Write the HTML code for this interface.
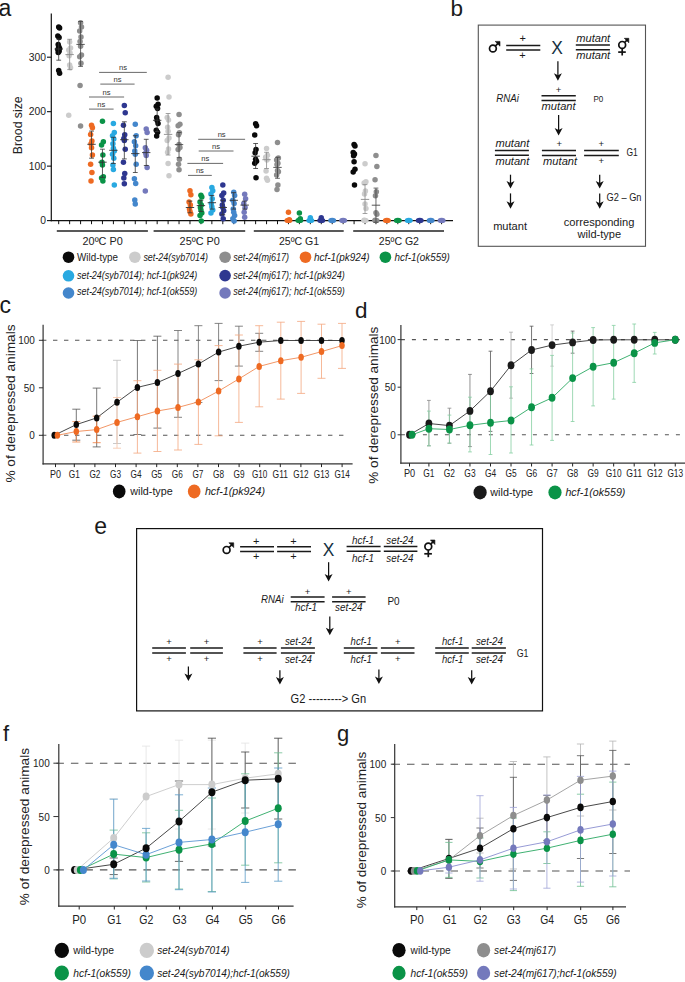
<!DOCTYPE html>
<html><head><meta charset="utf-8"><title>Figure</title>
<style>
html,body{margin:0;padding:0;background:#fff;}
body{width:685px;height:982px;overflow:hidden;}
svg{display:block;font-family:"Liberation Sans", sans-serif;}
</style></head><body>
<svg width="685" height="982" viewBox="0 0 685 982">
<rect width="685" height="982" fill="#fff"/>
<text x="-1.4" y="15.9" font-size="23" text-anchor="start" fill="#1a1a1a">a</text>
<line x1="51.3" y1="13.5" x2="51.3" y2="221.2" stroke="#111" stroke-width="1.2"/>
<line x1="50.7" y1="220.6" x2="453" y2="220.6" stroke="#111" stroke-width="1.2"/>
<line x1="47" y1="220.6" x2="51.3" y2="220.6" stroke="#111" stroke-width="1.1"/>
<text x="45.9" y="224.3" font-size="11" text-anchor="end" fill="#222" textLength="5.75" lengthAdjust="spacingAndGlyphs">0</text>
<line x1="47" y1="166.13" x2="51.3" y2="166.13" stroke="#111" stroke-width="1.1"/>
<text x="45.9" y="169.83" font-size="11" text-anchor="end" fill="#222" textLength="17.25" lengthAdjust="spacingAndGlyphs">100</text>
<line x1="47" y1="111.67" x2="51.3" y2="111.67" stroke="#111" stroke-width="1.1"/>
<text x="45.9" y="115.37" font-size="11" text-anchor="end" fill="#222" textLength="17.25" lengthAdjust="spacingAndGlyphs">200</text>
<line x1="47" y1="57.2" x2="51.3" y2="57.2" stroke="#111" stroke-width="1.1"/>
<text x="45.9" y="60.9" font-size="11" text-anchor="end" fill="#222" textLength="17.25" lengthAdjust="spacingAndGlyphs">300</text>
<text transform="translate(22.2 125.3) rotate(-90)" x="0" y="0" font-size="13.6" text-anchor="middle" fill="#222" textLength="57.8" lengthAdjust="spacingAndGlyphs">Brood size</text>
<line x1="58.7" y1="220.6" x2="58.7" y2="224.2" stroke="#111" stroke-width="1"/>
<line x1="69.64" y1="220.6" x2="69.64" y2="224.2" stroke="#111" stroke-width="1"/>
<line x1="80.58" y1="220.6" x2="80.58" y2="224.2" stroke="#111" stroke-width="1"/>
<line x1="91.52" y1="220.6" x2="91.52" y2="224.2" stroke="#111" stroke-width="1"/>
<line x1="102.46" y1="220.6" x2="102.46" y2="224.2" stroke="#111" stroke-width="1"/>
<line x1="113.4" y1="220.6" x2="113.4" y2="224.2" stroke="#111" stroke-width="1"/>
<line x1="124.34" y1="220.6" x2="124.34" y2="224.2" stroke="#111" stroke-width="1"/>
<line x1="135.28" y1="220.6" x2="135.28" y2="224.2" stroke="#111" stroke-width="1"/>
<line x1="146.22" y1="220.6" x2="146.22" y2="224.2" stroke="#111" stroke-width="1"/>
<line x1="157.16" y1="220.6" x2="157.16" y2="224.2" stroke="#111" stroke-width="1"/>
<line x1="168.1" y1="220.6" x2="168.1" y2="224.2" stroke="#111" stroke-width="1"/>
<line x1="179.04" y1="220.6" x2="179.04" y2="224.2" stroke="#111" stroke-width="1"/>
<line x1="189.98" y1="220.6" x2="189.98" y2="224.2" stroke="#111" stroke-width="1"/>
<line x1="200.92" y1="220.6" x2="200.92" y2="224.2" stroke="#111" stroke-width="1"/>
<line x1="211.86" y1="220.6" x2="211.86" y2="224.2" stroke="#111" stroke-width="1"/>
<line x1="222.8" y1="220.6" x2="222.8" y2="224.2" stroke="#111" stroke-width="1"/>
<line x1="233.74" y1="220.6" x2="233.74" y2="224.2" stroke="#111" stroke-width="1"/>
<line x1="244.68" y1="220.6" x2="244.68" y2="224.2" stroke="#111" stroke-width="1"/>
<line x1="255.62" y1="220.6" x2="255.62" y2="224.2" stroke="#111" stroke-width="1"/>
<line x1="266.56" y1="220.6" x2="266.56" y2="224.2" stroke="#111" stroke-width="1"/>
<line x1="277.5" y1="220.6" x2="277.5" y2="224.2" stroke="#111" stroke-width="1"/>
<line x1="288.44" y1="220.6" x2="288.44" y2="224.2" stroke="#111" stroke-width="1"/>
<line x1="299.38" y1="220.6" x2="299.38" y2="224.2" stroke="#111" stroke-width="1"/>
<line x1="310.32" y1="220.6" x2="310.32" y2="224.2" stroke="#111" stroke-width="1"/>
<line x1="321.26" y1="220.6" x2="321.26" y2="224.2" stroke="#111" stroke-width="1"/>
<line x1="332.2" y1="220.6" x2="332.2" y2="224.2" stroke="#111" stroke-width="1"/>
<line x1="343.14" y1="220.6" x2="343.14" y2="224.2" stroke="#111" stroke-width="1"/>
<line x1="354.08" y1="220.6" x2="354.08" y2="224.2" stroke="#111" stroke-width="1"/>
<line x1="365.02" y1="220.6" x2="365.02" y2="224.2" stroke="#111" stroke-width="1"/>
<line x1="375.96" y1="220.6" x2="375.96" y2="224.2" stroke="#111" stroke-width="1"/>
<line x1="386.9" y1="220.6" x2="386.9" y2="224.2" stroke="#111" stroke-width="1"/>
<line x1="397.84" y1="220.6" x2="397.84" y2="224.2" stroke="#111" stroke-width="1"/>
<line x1="408.78" y1="220.6" x2="408.78" y2="224.2" stroke="#111" stroke-width="1"/>
<line x1="419.72" y1="220.6" x2="419.72" y2="224.2" stroke="#111" stroke-width="1"/>
<line x1="430.66" y1="220.6" x2="430.66" y2="224.2" stroke="#111" stroke-width="1"/>
<line x1="441.6" y1="220.6" x2="441.6" y2="224.2" stroke="#111" stroke-width="1"/>
<line x1="56.8" y1="231" x2="147.9" y2="231" stroke="#222" stroke-width="1.3"/>
<text x="102.65" y="244.6" font-size="10.6" text-anchor="middle" fill="#222" textLength="40.2" lengthAdjust="spacingAndGlyphs">20ºC P0</text>
<line x1="153.6" y1="231" x2="245.2" y2="231" stroke="#222" stroke-width="1.3"/>
<text x="199.7" y="244.6" font-size="10.6" text-anchor="middle" fill="#222" textLength="40.2" lengthAdjust="spacingAndGlyphs">25ºC P0</text>
<line x1="253.8" y1="231" x2="343.7" y2="231" stroke="#222" stroke-width="1.3"/>
<text x="299.05" y="244.6" font-size="10.6" text-anchor="middle" fill="#222" textLength="40.2" lengthAdjust="spacingAndGlyphs">25ºC G1</text>
<line x1="353.2" y1="231" x2="444" y2="231" stroke="#222" stroke-width="1.3"/>
<text x="398.9" y="244.6" font-size="10.6" text-anchor="middle" fill="#222" textLength="40.2" lengthAdjust="spacingAndGlyphs">25ºC G2</text>
<circle cx="58.7" cy="27" r="2.75" fill="#0a0a0a"/>
<circle cx="59.6" cy="27.9" r="2.75" fill="#0a0a0a"/>
<circle cx="57.8" cy="36.1" r="2.75" fill="#0a0a0a"/>
<circle cx="59.1" cy="37.5" r="2.75" fill="#0a0a0a"/>
<circle cx="58.2" cy="44.6" r="2.75" fill="#0a0a0a"/>
<circle cx="58.7" cy="46.5" r="2.75" fill="#0a0a0a"/>
<circle cx="59.6" cy="48.5" r="2.75" fill="#0a0a0a"/>
<circle cx="57.8" cy="49.4" r="2.75" fill="#0a0a0a"/>
<circle cx="59.1" cy="51.2" r="2.75" fill="#0a0a0a"/>
<circle cx="58.2" cy="52.6" r="2.75" fill="#0a0a0a"/>
<circle cx="58.7" cy="70.5" r="2.75" fill="#0a0a0a"/>
<circle cx="59.6" cy="73.2" r="2.75" fill="#0a0a0a"/>
<line x1="58.7" y1="39" x2="58.7" y2="60.2" stroke="#333" stroke-width="0.8"/>
<line x1="56.3" y1="39" x2="61.1" y2="39" stroke="#333" stroke-width="0.8"/>
<line x1="56.3" y1="60.2" x2="61.1" y2="60.2" stroke="#333" stroke-width="0.8"/>
<line x1="54.5" y1="49" x2="62.9" y2="49" stroke="#333" stroke-width="0.9"/>
<circle cx="69.64" cy="42" r="2.75" fill="#cccccc"/>
<circle cx="70.54" cy="48" r="2.75" fill="#cccccc"/>
<circle cx="68.74" cy="50" r="2.75" fill="#cccccc"/>
<circle cx="70.04" cy="53" r="2.75" fill="#cccccc"/>
<circle cx="69.14" cy="55.8" r="2.75" fill="#cccccc"/>
<circle cx="69.64" cy="65" r="2.75" fill="#cccccc"/>
<circle cx="70.54" cy="67.7" r="2.75" fill="#cccccc"/>
<circle cx="68.74" cy="115.2" r="2.75" fill="#cccccc"/>
<line x1="69.64" y1="39.3" x2="69.64" y2="69.6" stroke="#8a8a8a" stroke-width="0.8"/>
<line x1="67.24" y1="39.3" x2="72.04" y2="39.3" stroke="#8a8a8a" stroke-width="0.8"/>
<line x1="67.24" y1="69.6" x2="72.04" y2="69.6" stroke="#8a8a8a" stroke-width="0.8"/>
<line x1="65.44" y1="54.6" x2="73.84" y2="54.6" stroke="#8a8a8a" stroke-width="0.9"/>
<circle cx="80.58" cy="22.8" r="2.75" fill="#8e8e8e"/>
<circle cx="81.48" cy="27" r="2.75" fill="#8e8e8e"/>
<circle cx="79.68" cy="31" r="2.75" fill="#8e8e8e"/>
<circle cx="80.98" cy="37" r="2.75" fill="#8e8e8e"/>
<circle cx="80.08" cy="41.6" r="2.75" fill="#8e8e8e"/>
<circle cx="80.58" cy="46.2" r="2.75" fill="#8e8e8e"/>
<circle cx="81.48" cy="54.9" r="2.75" fill="#8e8e8e"/>
<circle cx="79.68" cy="56.7" r="2.75" fill="#8e8e8e"/>
<circle cx="80.98" cy="63.2" r="2.75" fill="#8e8e8e"/>
<circle cx="80.08" cy="85.6" r="2.75" fill="#8e8e8e"/>
<circle cx="80.58" cy="126" r="2.75" fill="#8e8e8e"/>
<line x1="80.58" y1="21.5" x2="80.58" y2="66.4" stroke="#444" stroke-width="0.8"/>
<line x1="78.18" y1="21.5" x2="82.98" y2="21.5" stroke="#444" stroke-width="0.8"/>
<line x1="78.18" y1="66.4" x2="82.98" y2="66.4" stroke="#444" stroke-width="0.8"/>
<line x1="76.38" y1="44.4" x2="84.78" y2="44.4" stroke="#444" stroke-width="0.9"/>
<circle cx="91.52" cy="125.2" r="2.75" fill="#ee6a22"/>
<circle cx="92.42" cy="127.8" r="2.75" fill="#ee6a22"/>
<circle cx="90.62" cy="134.4" r="2.75" fill="#ee6a22"/>
<circle cx="91.92" cy="141" r="2.75" fill="#ee6a22"/>
<circle cx="91.02" cy="143.7" r="2.75" fill="#ee6a22"/>
<circle cx="91.52" cy="147.7" r="2.75" fill="#ee6a22"/>
<circle cx="92.42" cy="154.9" r="2.75" fill="#ee6a22"/>
<circle cx="90.62" cy="164.2" r="2.75" fill="#ee6a22"/>
<circle cx="91.92" cy="172.5" r="2.75" fill="#ee6a22"/>
<circle cx="91.02" cy="181" r="2.75" fill="#ee6a22"/>
<line x1="91.52" y1="131.1" x2="91.52" y2="158.2" stroke="#333" stroke-width="0.8"/>
<line x1="89.12" y1="131.1" x2="93.92" y2="131.1" stroke="#333" stroke-width="0.8"/>
<line x1="89.12" y1="158.2" x2="93.92" y2="158.2" stroke="#333" stroke-width="0.8"/>
<line x1="87.32" y1="144.3" x2="95.72" y2="144.3" stroke="#333" stroke-width="0.9"/>
<circle cx="102.46" cy="121.2" r="2.75" fill="#0a9347"/>
<circle cx="103.36" cy="141.7" r="2.75" fill="#0a9347"/>
<circle cx="101.56" cy="145" r="2.75" fill="#0a9347"/>
<circle cx="102.86" cy="154.9" r="2.75" fill="#0a9347"/>
<circle cx="101.96" cy="162.2" r="2.75" fill="#0a9347"/>
<circle cx="102.46" cy="164.9" r="2.75" fill="#0a9347"/>
<circle cx="103.36" cy="176.8" r="2.75" fill="#0a9347"/>
<circle cx="101.56" cy="178.1" r="2.75" fill="#0a9347"/>
<circle cx="102.86" cy="181" r="2.75" fill="#0a9347"/>
<line x1="102.46" y1="149.2" x2="102.46" y2="177.4" stroke="#333" stroke-width="0.8"/>
<line x1="100.06" y1="149.2" x2="104.86" y2="149.2" stroke="#333" stroke-width="0.8"/>
<line x1="100.06" y1="177.4" x2="104.86" y2="177.4" stroke="#333" stroke-width="0.8"/>
<line x1="98.26" y1="162.2" x2="106.66" y2="162.2" stroke="#333" stroke-width="0.9"/>
<circle cx="113.4" cy="123.6" r="2.75" fill="#29a9e1"/>
<circle cx="114.3" cy="132.4" r="2.75" fill="#29a9e1"/>
<circle cx="112.5" cy="135.7" r="2.75" fill="#29a9e1"/>
<circle cx="113.8" cy="139" r="2.75" fill="#29a9e1"/>
<circle cx="112.9" cy="143.7" r="2.75" fill="#29a9e1"/>
<circle cx="113.4" cy="148.3" r="2.75" fill="#29a9e1"/>
<circle cx="114.3" cy="151" r="2.75" fill="#29a9e1"/>
<circle cx="112.5" cy="154.3" r="2.75" fill="#29a9e1"/>
<circle cx="113.8" cy="158.2" r="2.75" fill="#29a9e1"/>
<circle cx="112.9" cy="164.9" r="2.75" fill="#29a9e1"/>
<circle cx="113.4" cy="169.5" r="2.75" fill="#29a9e1"/>
<circle cx="114.3" cy="185" r="2.75" fill="#29a9e1"/>
<line x1="113.4" y1="137.3" x2="113.4" y2="163.5" stroke="#333" stroke-width="0.8"/>
<line x1="111" y1="137.3" x2="115.8" y2="137.3" stroke="#333" stroke-width="0.8"/>
<line x1="111" y1="163.5" x2="115.8" y2="163.5" stroke="#333" stroke-width="0.8"/>
<line x1="109.2" y1="150.3" x2="117.6" y2="150.3" stroke="#333" stroke-width="0.9"/>
<circle cx="124.34" cy="105.6" r="2.75" fill="#2e3790"/>
<circle cx="125.24" cy="112.8" r="2.75" fill="#2e3790"/>
<circle cx="123.44" cy="125.2" r="2.75" fill="#2e3790"/>
<circle cx="124.74" cy="134.7" r="2.75" fill="#2e3790"/>
<circle cx="123.84" cy="138.4" r="2.75" fill="#2e3790"/>
<circle cx="124.34" cy="140.4" r="2.75" fill="#2e3790"/>
<circle cx="125.24" cy="149.2" r="2.75" fill="#2e3790"/>
<circle cx="123.44" cy="162.2" r="2.75" fill="#2e3790"/>
<circle cx="124.74" cy="173.5" r="2.75" fill="#2e3790"/>
<circle cx="123.84" cy="178.1" r="2.75" fill="#2e3790"/>
<circle cx="124.34" cy="183.7" r="2.75" fill="#2e3790"/>
<line x1="124.34" y1="121.8" x2="124.34" y2="158.9" stroke="#333" stroke-width="0.8"/>
<line x1="121.94" y1="121.8" x2="126.74" y2="121.8" stroke="#333" stroke-width="0.8"/>
<line x1="121.94" y1="158.9" x2="126.74" y2="158.9" stroke="#333" stroke-width="0.8"/>
<line x1="120.14" y1="139.7" x2="128.54" y2="139.7" stroke="#333" stroke-width="0.9"/>
<circle cx="135.28" cy="124.2" r="2.75" fill="#4487cc"/>
<circle cx="136.18" cy="135.7" r="2.75" fill="#4487cc"/>
<circle cx="134.38" cy="141.7" r="2.75" fill="#4487cc"/>
<circle cx="135.68" cy="145.7" r="2.75" fill="#4487cc"/>
<circle cx="134.78" cy="151" r="2.75" fill="#4487cc"/>
<circle cx="135.28" cy="154.3" r="2.75" fill="#4487cc"/>
<circle cx="136.18" cy="164.2" r="2.75" fill="#4487cc"/>
<circle cx="134.38" cy="178.8" r="2.75" fill="#4487cc"/>
<circle cx="135.68" cy="183.4" r="2.75" fill="#4487cc"/>
<circle cx="134.78" cy="199.9" r="2.75" fill="#4487cc"/>
<circle cx="135.28" cy="203.9" r="2.75" fill="#4487cc"/>
<line x1="135.28" y1="135.7" x2="135.28" y2="172.5" stroke="#333" stroke-width="0.8"/>
<line x1="132.88" y1="135.7" x2="137.68" y2="135.7" stroke="#333" stroke-width="0.8"/>
<line x1="132.88" y1="172.5" x2="137.68" y2="172.5" stroke="#333" stroke-width="0.8"/>
<line x1="131.08" y1="153.6" x2="139.48" y2="153.6" stroke="#333" stroke-width="0.9"/>
<circle cx="146.22" cy="129.1" r="2.75" fill="#7479bc"/>
<circle cx="147.12" cy="132.4" r="2.75" fill="#7479bc"/>
<circle cx="145.32" cy="147.7" r="2.75" fill="#7479bc"/>
<circle cx="146.62" cy="150.3" r="2.75" fill="#7479bc"/>
<circle cx="145.72" cy="153" r="2.75" fill="#7479bc"/>
<circle cx="146.22" cy="155.6" r="2.75" fill="#7479bc"/>
<circle cx="147.12" cy="167.5" r="2.75" fill="#7479bc"/>
<circle cx="145.32" cy="191" r="2.75" fill="#7479bc"/>
<line x1="146.22" y1="139.3" x2="146.22" y2="165.5" stroke="#333" stroke-width="0.8"/>
<line x1="143.82" y1="139.3" x2="148.62" y2="139.3" stroke="#333" stroke-width="0.8"/>
<line x1="143.82" y1="165.5" x2="148.62" y2="165.5" stroke="#333" stroke-width="0.8"/>
<line x1="142.02" y1="152.6" x2="150.42" y2="152.6" stroke="#333" stroke-width="0.9"/>
<circle cx="157.16" cy="97.9" r="2.75" fill="#0a0a0a"/>
<circle cx="158.06" cy="104.3" r="2.75" fill="#0a0a0a"/>
<circle cx="156.26" cy="106.3" r="2.75" fill="#0a0a0a"/>
<circle cx="157.56" cy="108.4" r="2.75" fill="#0a0a0a"/>
<circle cx="156.66" cy="117.5" r="2.75" fill="#0a0a0a"/>
<circle cx="157.16" cy="120.6" r="2.75" fill="#0a0a0a"/>
<circle cx="158.06" cy="123.6" r="2.75" fill="#0a0a0a"/>
<circle cx="156.26" cy="130.3" r="2.75" fill="#0a0a0a"/>
<circle cx="157.56" cy="132.3" r="2.75" fill="#0a0a0a"/>
<circle cx="156.66" cy="135.9" r="2.75" fill="#0a0a0a"/>
<line x1="157.16" y1="109" x2="157.16" y2="131.5" stroke="#333" stroke-width="0.8"/>
<line x1="154.76" y1="109" x2="159.56" y2="109" stroke="#333" stroke-width="0.8"/>
<line x1="154.76" y1="131.5" x2="159.56" y2="131.5" stroke="#333" stroke-width="0.8"/>
<line x1="152.96" y1="120.3" x2="161.36" y2="120.3" stroke="#333" stroke-width="0.9"/>
<circle cx="168.1" cy="77.3" r="2.75" fill="#cccccc"/>
<circle cx="169" cy="96.9" r="2.75" fill="#cccccc"/>
<circle cx="167.2" cy="117.5" r="2.75" fill="#cccccc"/>
<circle cx="168.5" cy="120.1" r="2.75" fill="#cccccc"/>
<circle cx="167.6" cy="127.2" r="2.75" fill="#cccccc"/>
<circle cx="168.1" cy="131.3" r="2.75" fill="#cccccc"/>
<circle cx="169" cy="137.9" r="2.75" fill="#cccccc"/>
<circle cx="167.2" cy="140.4" r="2.75" fill="#cccccc"/>
<circle cx="168.5" cy="149.1" r="2.75" fill="#cccccc"/>
<circle cx="167.6" cy="152.2" r="2.75" fill="#cccccc"/>
<circle cx="168.1" cy="163.4" r="2.75" fill="#cccccc"/>
<circle cx="169" cy="175.7" r="2.75" fill="#cccccc"/>
<line x1="168.1" y1="113.5" x2="168.1" y2="155" stroke="#8a8a8a" stroke-width="0.8"/>
<line x1="165.7" y1="113.5" x2="170.5" y2="113.5" stroke="#8a8a8a" stroke-width="0.8"/>
<line x1="165.7" y1="155" x2="170.5" y2="155" stroke="#8a8a8a" stroke-width="0.8"/>
<line x1="163.9" y1="134.4" x2="172.3" y2="134.4" stroke="#8a8a8a" stroke-width="0.9"/>
<circle cx="179.04" cy="114.5" r="2.75" fill="#8e8e8e"/>
<circle cx="179.94" cy="124.2" r="2.75" fill="#8e8e8e"/>
<circle cx="178.14" cy="125.7" r="2.75" fill="#8e8e8e"/>
<circle cx="179.44" cy="132.8" r="2.75" fill="#8e8e8e"/>
<circle cx="178.54" cy="134.8" r="2.75" fill="#8e8e8e"/>
<circle cx="179.04" cy="144.5" r="2.75" fill="#8e8e8e"/>
<circle cx="179.94" cy="147.6" r="2.75" fill="#8e8e8e"/>
<circle cx="178.14" cy="149.6" r="2.75" fill="#8e8e8e"/>
<circle cx="179.44" cy="159.3" r="2.75" fill="#8e8e8e"/>
<circle cx="178.54" cy="164.2" r="2.75" fill="#8e8e8e"/>
<circle cx="179.04" cy="169.8" r="2.75" fill="#8e8e8e"/>
<line x1="179.04" y1="132.5" x2="179.04" y2="157.7" stroke="#444" stroke-width="0.8"/>
<line x1="176.64" y1="132.5" x2="181.44" y2="132.5" stroke="#444" stroke-width="0.8"/>
<line x1="176.64" y1="157.7" x2="181.44" y2="157.7" stroke="#444" stroke-width="0.8"/>
<line x1="174.84" y1="144.6" x2="183.24" y2="144.6" stroke="#444" stroke-width="0.9"/>
<circle cx="189.98" cy="190.7" r="2.75" fill="#ee6a22"/>
<circle cx="190.88" cy="194.7" r="2.75" fill="#ee6a22"/>
<circle cx="189.08" cy="201.9" r="2.75" fill="#ee6a22"/>
<circle cx="190.38" cy="205.1" r="2.75" fill="#ee6a22"/>
<circle cx="189.48" cy="209.1" r="2.75" fill="#ee6a22"/>
<circle cx="189.98" cy="211.5" r="2.75" fill="#ee6a22"/>
<circle cx="190.88" cy="214" r="2.75" fill="#ee6a22"/>
<line x1="189.98" y1="201.1" x2="189.98" y2="212.8" stroke="#333" stroke-width="0.8"/>
<line x1="187.58" y1="201.1" x2="192.38" y2="201.1" stroke="#333" stroke-width="0.8"/>
<line x1="187.58" y1="212.8" x2="192.38" y2="212.8" stroke="#333" stroke-width="0.8"/>
<line x1="185.78" y1="207.5" x2="194.18" y2="207.5" stroke="#333" stroke-width="0.9"/>
<circle cx="200.92" cy="195.2" r="2.75" fill="#0a9347"/>
<circle cx="201.82" cy="197.1" r="2.75" fill="#0a9347"/>
<circle cx="200.02" cy="201.9" r="2.75" fill="#0a9347"/>
<circle cx="201.32" cy="205.1" r="2.75" fill="#0a9347"/>
<circle cx="200.42" cy="207.5" r="2.75" fill="#0a9347"/>
<circle cx="200.92" cy="209.9" r="2.75" fill="#0a9347"/>
<circle cx="201.82" cy="213.1" r="2.75" fill="#0a9347"/>
<circle cx="200.02" cy="215.6" r="2.75" fill="#0a9347"/>
<circle cx="201.32" cy="220.9" r="2.75" fill="#0a9347"/>
<line x1="200.92" y1="200.3" x2="200.92" y2="211.5" stroke="#333" stroke-width="0.8"/>
<line x1="198.52" y1="200.3" x2="203.32" y2="200.3" stroke="#333" stroke-width="0.8"/>
<line x1="198.52" y1="211.5" x2="203.32" y2="211.5" stroke="#333" stroke-width="0.8"/>
<line x1="196.72" y1="205.6" x2="205.12" y2="205.6" stroke="#333" stroke-width="0.9"/>
<circle cx="211.86" cy="187.4" r="2.75" fill="#29a9e1"/>
<circle cx="212.76" cy="190.7" r="2.75" fill="#29a9e1"/>
<circle cx="210.96" cy="193.9" r="2.75" fill="#29a9e1"/>
<circle cx="212.26" cy="198.7" r="2.75" fill="#29a9e1"/>
<circle cx="211.36" cy="203.5" r="2.75" fill="#29a9e1"/>
<circle cx="211.86" cy="206.7" r="2.75" fill="#29a9e1"/>
<circle cx="212.76" cy="209.9" r="2.75" fill="#29a9e1"/>
<circle cx="210.96" cy="213.1" r="2.75" fill="#29a9e1"/>
<line x1="211.86" y1="195.5" x2="211.86" y2="209.1" stroke="#333" stroke-width="0.8"/>
<line x1="209.46" y1="195.5" x2="214.26" y2="195.5" stroke="#333" stroke-width="0.8"/>
<line x1="209.46" y1="209.1" x2="214.26" y2="209.1" stroke="#333" stroke-width="0.8"/>
<line x1="207.66" y1="202.7" x2="216.06" y2="202.7" stroke="#333" stroke-width="0.9"/>
<circle cx="222.8" cy="185" r="2.75" fill="#2e3790"/>
<circle cx="223.7" cy="193.1" r="2.75" fill="#2e3790"/>
<circle cx="221.9" cy="195.5" r="2.75" fill="#2e3790"/>
<circle cx="223.2" cy="200.3" r="2.75" fill="#2e3790"/>
<circle cx="222.3" cy="205.1" r="2.75" fill="#2e3790"/>
<circle cx="222.8" cy="207.5" r="2.75" fill="#2e3790"/>
<circle cx="223.7" cy="210.7" r="2.75" fill="#2e3790"/>
<circle cx="221.9" cy="213.9" r="2.75" fill="#2e3790"/>
<circle cx="223.2" cy="218.8" r="2.75" fill="#2e3790"/>
<line x1="222.8" y1="200.3" x2="222.8" y2="214.8" stroke="#333" stroke-width="0.8"/>
<line x1="220.4" y1="200.3" x2="225.2" y2="200.3" stroke="#333" stroke-width="0.8"/>
<line x1="220.4" y1="214.8" x2="225.2" y2="214.8" stroke="#333" stroke-width="0.8"/>
<line x1="218.6" y1="207.5" x2="227" y2="207.5" stroke="#333" stroke-width="0.9"/>
<circle cx="233.74" cy="192.3" r="2.75" fill="#4487cc"/>
<circle cx="234.64" cy="195.5" r="2.75" fill="#4487cc"/>
<circle cx="232.84" cy="200.3" r="2.75" fill="#4487cc"/>
<circle cx="234.14" cy="203.5" r="2.75" fill="#4487cc"/>
<circle cx="233.24" cy="209.1" r="2.75" fill="#4487cc"/>
<circle cx="233.74" cy="212.3" r="2.75" fill="#4487cc"/>
<circle cx="234.64" cy="215.6" r="2.75" fill="#4487cc"/>
<circle cx="232.84" cy="218.8" r="2.75" fill="#4487cc"/>
<circle cx="234.14" cy="220.9" r="2.75" fill="#4487cc"/>
<line x1="233.74" y1="192.6" x2="233.74" y2="209.1" stroke="#333" stroke-width="0.8"/>
<line x1="231.34" y1="192.6" x2="236.14" y2="192.6" stroke="#333" stroke-width="0.8"/>
<line x1="231.34" y1="209.1" x2="236.14" y2="209.1" stroke="#333" stroke-width="0.8"/>
<line x1="229.54" y1="200.3" x2="237.94" y2="200.3" stroke="#333" stroke-width="0.9"/>
<circle cx="244.68" cy="194.2" r="2.75" fill="#7479bc"/>
<circle cx="245.58" cy="198.7" r="2.75" fill="#7479bc"/>
<circle cx="243.78" cy="203.5" r="2.75" fill="#7479bc"/>
<circle cx="245.08" cy="207.5" r="2.75" fill="#7479bc"/>
<circle cx="244.18" cy="212.3" r="2.75" fill="#7479bc"/>
<circle cx="244.68" cy="217.2" r="2.75" fill="#7479bc"/>
<line x1="244.68" y1="201.1" x2="244.68" y2="209.1" stroke="#333" stroke-width="0.8"/>
<line x1="242.28" y1="201.1" x2="247.08" y2="201.1" stroke="#333" stroke-width="0.8"/>
<line x1="242.28" y1="209.1" x2="247.08" y2="209.1" stroke="#333" stroke-width="0.8"/>
<line x1="240.48" y1="205.1" x2="248.88" y2="205.1" stroke="#333" stroke-width="0.9"/>
<circle cx="255.62" cy="123.8" r="2.75" fill="#0a0a0a"/>
<circle cx="256.52" cy="125.8" r="2.75" fill="#0a0a0a"/>
<circle cx="254.72" cy="135" r="2.75" fill="#0a0a0a"/>
<circle cx="256.02" cy="149.4" r="2.75" fill="#0a0a0a"/>
<circle cx="255.12" cy="152.7" r="2.75" fill="#0a0a0a"/>
<circle cx="255.62" cy="159.3" r="2.75" fill="#0a0a0a"/>
<circle cx="256.52" cy="161.2" r="2.75" fill="#0a0a0a"/>
<circle cx="254.72" cy="163.2" r="2.75" fill="#0a0a0a"/>
<circle cx="256.02" cy="177.7" r="2.75" fill="#0a0a0a"/>
<line x1="255.62" y1="143.5" x2="255.62" y2="168.5" stroke="#333" stroke-width="0.8"/>
<line x1="253.22" y1="143.5" x2="258.02" y2="143.5" stroke="#333" stroke-width="0.8"/>
<line x1="253.22" y1="168.5" x2="258.02" y2="168.5" stroke="#333" stroke-width="0.8"/>
<line x1="251.42" y1="156.2" x2="259.82" y2="156.2" stroke="#333" stroke-width="0.9"/>
<circle cx="266.56" cy="148.4" r="2.75" fill="#cccccc"/>
<circle cx="267.46" cy="155.3" r="2.75" fill="#cccccc"/>
<circle cx="265.66" cy="157.3" r="2.75" fill="#cccccc"/>
<circle cx="266.96" cy="159.9" r="2.75" fill="#cccccc"/>
<circle cx="266.06" cy="171.1" r="2.75" fill="#cccccc"/>
<circle cx="266.56" cy="178.3" r="2.75" fill="#cccccc"/>
<circle cx="267.46" cy="180.3" r="2.75" fill="#cccccc"/>
<line x1="266.56" y1="152.3" x2="266.56" y2="168.5" stroke="#8a8a8a" stroke-width="0.8"/>
<line x1="264.16" y1="152.3" x2="268.96" y2="152.3" stroke="#8a8a8a" stroke-width="0.8"/>
<line x1="264.16" y1="168.5" x2="268.96" y2="168.5" stroke="#8a8a8a" stroke-width="0.8"/>
<line x1="262.36" y1="159.7" x2="270.76" y2="159.7" stroke="#8a8a8a" stroke-width="0.9"/>
<circle cx="277.5" cy="142.6" r="2.75" fill="#8e8e8e"/>
<circle cx="278.4" cy="158" r="2.75" fill="#8e8e8e"/>
<circle cx="276.6" cy="159.9" r="2.75" fill="#8e8e8e"/>
<circle cx="277.9" cy="163.2" r="2.75" fill="#8e8e8e"/>
<circle cx="277" cy="164.5" r="2.75" fill="#8e8e8e"/>
<circle cx="277.5" cy="170.4" r="2.75" fill="#8e8e8e"/>
<circle cx="278.4" cy="171.8" r="2.75" fill="#8e8e8e"/>
<circle cx="276.6" cy="175" r="2.75" fill="#8e8e8e"/>
<circle cx="277.9" cy="184.9" r="2.75" fill="#8e8e8e"/>
<circle cx="277" cy="189.5" r="2.75" fill="#8e8e8e"/>
<line x1="277.5" y1="157.3" x2="277.5" y2="178.3" stroke="#444" stroke-width="0.8"/>
<line x1="275.1" y1="157.3" x2="279.9" y2="157.3" stroke="#444" stroke-width="0.8"/>
<line x1="275.1" y1="178.3" x2="279.9" y2="178.3" stroke="#444" stroke-width="0.8"/>
<line x1="273.3" y1="167.4" x2="281.7" y2="167.4" stroke="#444" stroke-width="0.9"/>
<circle cx="288.44" cy="212.2" r="2.75" fill="#ee6a22"/>
<circle cx="289.34" cy="219.7" r="2.75" fill="#ee6a22"/>
<ellipse cx="288.44" cy="220.4" rx="4" ry="2.7" fill="#ee6a22"/>
<circle cx="299.38" cy="213.1" r="2.75" fill="#0a9347"/>
<circle cx="300.28" cy="218.8" r="2.75" fill="#0a9347"/>
<ellipse cx="299.38" cy="220.4" rx="4" ry="2.7" fill="#0a9347"/>
<circle cx="310.32" cy="217.7" r="2.75" fill="#29a9e1"/>
<ellipse cx="310.32" cy="220.4" rx="4" ry="2.7" fill="#29a9e1"/>
<circle cx="321.26" cy="217.7" r="2.75" fill="#2e3790"/>
<ellipse cx="321.26" cy="220.4" rx="4" ry="2.7" fill="#2e3790"/>
<ellipse cx="332.2" cy="220.4" rx="4" ry="2.7" fill="#4487cc"/>
<ellipse cx="343.14" cy="220.4" rx="4" ry="2.7" fill="#7479bc"/>
<circle cx="354.08" cy="144.5" r="2.75" fill="#0a0a0a"/>
<circle cx="354.98" cy="146.1" r="2.75" fill="#0a0a0a"/>
<circle cx="353.18" cy="152.5" r="2.75" fill="#0a0a0a"/>
<circle cx="354.48" cy="154.1" r="2.75" fill="#0a0a0a"/>
<circle cx="353.58" cy="155.7" r="2.75" fill="#0a0a0a"/>
<circle cx="354.08" cy="161.8" r="2.75" fill="#0a0a0a"/>
<circle cx="354.98" cy="169.3" r="2.75" fill="#0a0a0a"/>
<circle cx="353.18" cy="172.1" r="2.75" fill="#0a0a0a"/>
<circle cx="354.48" cy="184.9" r="2.75" fill="#0a0a0a"/>
<circle cx="365.02" cy="163.7" r="2.75" fill="#cccccc"/>
<circle cx="365.92" cy="181.7" r="2.75" fill="#cccccc"/>
<circle cx="364.12" cy="183" r="2.75" fill="#cccccc"/>
<circle cx="365.42" cy="191" r="2.75" fill="#cccccc"/>
<circle cx="364.52" cy="193.9" r="2.75" fill="#cccccc"/>
<circle cx="365.02" cy="203.9" r="2.75" fill="#cccccc"/>
<circle cx="365.92" cy="208.4" r="2.75" fill="#cccccc"/>
<circle cx="364.12" cy="220.3" r="2.75" fill="#cccccc"/>
<ellipse cx="365.02" cy="220.4" rx="3.6" ry="2.7" fill="#cccccc"/>
<line x1="365.02" y1="184.6" x2="365.02" y2="213.5" stroke="#8a8a8a" stroke-width="0.8"/>
<line x1="362.62" y1="184.6" x2="367.42" y2="184.6" stroke="#8a8a8a" stroke-width="0.8"/>
<line x1="362.62" y1="213.5" x2="367.42" y2="213.5" stroke="#8a8a8a" stroke-width="0.8"/>
<line x1="360.82" y1="199.4" x2="369.22" y2="199.4" stroke="#8a8a8a" stroke-width="0.9"/>
<circle cx="375.96" cy="155.4" r="2.75" fill="#8e8e8e"/>
<circle cx="376.86" cy="166.6" r="2.75" fill="#8e8e8e"/>
<circle cx="375.06" cy="179.8" r="2.75" fill="#8e8e8e"/>
<circle cx="376.36" cy="191.8" r="2.75" fill="#8e8e8e"/>
<circle cx="375.46" cy="195.8" r="2.75" fill="#8e8e8e"/>
<circle cx="375.96" cy="212.7" r="2.75" fill="#8e8e8e"/>
<circle cx="376.86" cy="214.3" r="2.75" fill="#8e8e8e"/>
<circle cx="375.06" cy="220.3" r="2.75" fill="#8e8e8e"/>
<ellipse cx="375.96" cy="220.4" rx="3.6" ry="2.7" fill="#8e8e8e"/>
<line x1="375.96" y1="188.1" x2="375.96" y2="222.3" stroke="#444" stroke-width="0.8"/>
<line x1="373.56" y1="188.1" x2="378.36" y2="188.1" stroke="#444" stroke-width="0.8"/>
<line x1="373.56" y1="222.3" x2="378.36" y2="222.3" stroke="#444" stroke-width="0.8"/>
<line x1="371.76" y1="205.2" x2="380.16" y2="205.2" stroke="#444" stroke-width="0.9"/>
<ellipse cx="386.9" cy="220.4" rx="4" ry="2.7" fill="#ee6a22"/>
<ellipse cx="397.84" cy="220.4" rx="4" ry="2.7" fill="#0a9347"/>
<ellipse cx="408.78" cy="220.4" rx="4" ry="2.7" fill="#29a9e1"/>
<ellipse cx="419.72" cy="220.4" rx="4" ry="2.7" fill="#2e3790"/>
<ellipse cx="430.66" cy="220.4" rx="4" ry="2.7" fill="#4487cc"/>
<ellipse cx="441.6" cy="220.4" rx="4" ry="2.7" fill="#7479bc"/>
<line x1="99.1" y1="72.4" x2="146.8" y2="72.4" stroke="#444" stroke-width="0.8"/>
<text x="122.95" y="70.2" font-size="7.6" text-anchor="middle" fill="#333">ns</text>
<line x1="100.3" y1="84.1" x2="134.6" y2="84.1" stroke="#444" stroke-width="0.8"/>
<text x="117.45" y="81.9" font-size="7.6" text-anchor="middle" fill="#333">ns</text>
<line x1="89" y1="97" x2="124.1" y2="97" stroke="#444" stroke-width="0.8"/>
<text x="106.55" y="94.8" font-size="7.6" text-anchor="middle" fill="#333">ns</text>
<line x1="89" y1="109.1" x2="113.6" y2="109.1" stroke="#444" stroke-width="0.8"/>
<text x="101.3" y="106.9" font-size="7.6" text-anchor="middle" fill="#333">ns</text>
<line x1="198.2" y1="139.3" x2="245.1" y2="139.3" stroke="#444" stroke-width="0.8"/>
<text x="221.65" y="137.1" font-size="7.6" text-anchor="middle" fill="#333">ns</text>
<line x1="198.7" y1="151" x2="233.5" y2="151" stroke="#444" stroke-width="0.8"/>
<text x="216.1" y="148.8" font-size="7.6" text-anchor="middle" fill="#333">ns</text>
<line x1="187.4" y1="163.4" x2="223.1" y2="163.4" stroke="#444" stroke-width="0.8"/>
<text x="205.25" y="161.2" font-size="7.6" text-anchor="middle" fill="#333">ns</text>
<line x1="188" y1="175.4" x2="211.8" y2="175.4" stroke="#444" stroke-width="0.8"/>
<text x="199.9" y="173.2" font-size="7.6" text-anchor="middle" fill="#333">ns</text>
<circle cx="68.5" cy="257.2" r="5.8" fill="#0a0a0a"/>
<text x="77.1" y="260.7" font-size="10.6" text-anchor="start" fill="#1a1a1a" textLength="40.9" lengthAdjust="spacingAndGlyphs">Wild-type</text>
<circle cx="134.9" cy="257.2" r="5.8" fill="#cccccc"/>
<text x="143.4" y="260.7" font-size="10.6" text-anchor="start" font-style="italic" fill="#1a1a1a" textLength="64.6" lengthAdjust="spacingAndGlyphs">set-24(syb7014)</text>
<circle cx="225.1" cy="257.2" r="5.8" fill="#8e8e8e"/>
<text x="233.3" y="260.7" font-size="10.6" text-anchor="start" font-style="italic" fill="#1a1a1a" textLength="55.8" lengthAdjust="spacingAndGlyphs">set-24(mj617)</text>
<circle cx="305.5" cy="257.2" r="5.8" fill="#ee6a22"/>
<text x="313.9" y="260.7" font-size="10.6" text-anchor="start" font-style="italic" fill="#1a1a1a" textLength="55.8" lengthAdjust="spacingAndGlyphs">hcf-1(pk924)</text>
<circle cx="385.4" cy="257.2" r="5.8" fill="#0a9347"/>
<text x="394.5" y="260.7" font-size="10.6" text-anchor="start" font-style="italic" fill="#1a1a1a" textLength="55.4" lengthAdjust="spacingAndGlyphs">hcf-1(ok559)</text>
<circle cx="68.5" cy="275.8" r="5.8" fill="#29a9e1"/>
<text x="76.9" y="278.8" font-size="10.6" text-anchor="start" font-style="italic" fill="#1a1a1a" textLength="120.4" lengthAdjust="spacingAndGlyphs">set-24(syb7014); hcf-1(pk924)</text>
<circle cx="225.1" cy="275.6" r="5.8" fill="#2e3790"/>
<text x="233.3" y="278.8" font-size="10.6" text-anchor="start" font-style="italic" fill="#1a1a1a" textLength="111.4" lengthAdjust="spacingAndGlyphs">set-24(mj617); hcf-1(pk924)</text>
<circle cx="68.5" cy="293" r="5.8" fill="#4487cc"/>
<text x="76.9" y="295.4" font-size="10.6" text-anchor="start" font-style="italic" fill="#1a1a1a" textLength="120.4" lengthAdjust="spacingAndGlyphs">set-24(syb7014); hcf-1(ok559)</text>
<circle cx="225.1" cy="293" r="5.8" fill="#7479bc"/>
<text x="233.3" y="295.4" font-size="10.6" text-anchor="start" font-style="italic" fill="#1a1a1a" textLength="111.4" lengthAdjust="spacingAndGlyphs">set-24(mj617); hcf-1(ok559)</text>
<text x="450.4" y="16" font-size="22.5" text-anchor="start" fill="#1a1a1a">b</text>
<rect x="478.3" y="25.1" width="167.2" height="221.2" fill="none" stroke="#555" stroke-width="1.1"/>
<circle cx="492.9" cy="48.5" r="3.4" fill="none" stroke="#111" stroke-width="1.7"/>
<line x1="495.3" y1="46.1" x2="498.5" y2="42.9" stroke="#111" stroke-width="1.7"/>
<polygon points="495.2,41.4 500,41.4 500,46.2" fill="#111" stroke="#111" stroke-width="0.6" stroke-linejoin="round"/>
<line x1="506.2" y1="45.4" x2="540.3" y2="45.4" stroke="#1a1a1a" stroke-width="1.5"/>
<line x1="506.2" y1="50.1" x2="540.3" y2="50.1" stroke="#1a1a1a" stroke-width="1.5"/>
<text x="522.6" y="41.74" font-size="11" text-anchor="middle" fill="#1a1a1a">+</text>
<text x="522.4" y="58.74" font-size="11" text-anchor="middle" fill="#1a1a1a">+</text>
<text x="557" y="54.3" font-size="18.2" text-anchor="middle" fill="#15303f" textLength="11.6" lengthAdjust="spacingAndGlyphs">X</text>
<line x1="575.8" y1="45" x2="609.9" y2="45" stroke="#1a1a1a" stroke-width="1.5"/>
<line x1="575.8" y1="49.8" x2="609.9" y2="49.8" stroke="#1a1a1a" stroke-width="1.5"/>
<text x="593.2" y="41.8" font-size="11" text-anchor="middle" font-style="italic" fill="#1a1a1a" textLength="34" lengthAdjust="spacingAndGlyphs">mutant</text>
<text x="593.2" y="59.1" font-size="11" text-anchor="middle" font-style="italic" fill="#1a1a1a" textLength="34" lengthAdjust="spacingAndGlyphs">mutant</text>
<circle cx="622.2" cy="44.9" r="3.4" fill="none" stroke="#111" stroke-width="1.7"/>
<line x1="622.2" y1="48.3" x2="622.2" y2="55.5" stroke="#111" stroke-width="1.7"/>
<line x1="618.2" y1="52.1" x2="625.8" y2="52.1" stroke="#111" stroke-width="1.7"/>
<line x1="624.6" y1="42.5" x2="627.2" y2="39.9" stroke="#111" stroke-width="1.7"/>
<polygon points="624.3,38.3 628.8,38.3 628.8,42.8" fill="#111" stroke="#111" stroke-width="0.6" stroke-linejoin="round"/>
<line x1="557.9" y1="61.3" x2="557.9" y2="75.8" stroke="#111" stroke-width="1.25"/>
<polygon points="553.9,73.3 557.9,75.3 561.9,73.3 557.9,80.8" fill="#111"/>
<text x="507.6" y="102.2" font-size="10.2" text-anchor="middle" font-style="italic" fill="#1a1a1a" textLength="22.6" lengthAdjust="spacingAndGlyphs">RNAi</text>
<text x="558.5" y="92.63" font-size="9.5" text-anchor="middle" fill="#1a1a1a">+</text>
<line x1="541.5" y1="95.7" x2="575.8" y2="95.7" stroke="#1a1a1a" stroke-width="1.5"/>
<line x1="541.5" y1="100.4" x2="575.8" y2="100.4" stroke="#1a1a1a" stroke-width="1.5"/>
<text x="558.6" y="109.7" font-size="11" text-anchor="middle" font-style="italic" fill="#1a1a1a" textLength="34" lengthAdjust="spacingAndGlyphs">mutant</text>
<text x="598.4" y="102.2" font-size="9.8" text-anchor="middle" fill="#1a1a1a" textLength="9.8" lengthAdjust="spacingAndGlyphs">P0</text>
<line x1="558.6" y1="115" x2="558.6" y2="130.4" stroke="#111" stroke-width="1.25"/>
<polygon points="554.6,127.9 558.6,129.9 562.6,127.9 558.6,135.4" fill="#111"/>
<text x="512.4" y="147" font-size="11" text-anchor="middle" font-style="italic" fill="#1a1a1a" textLength="34" lengthAdjust="spacingAndGlyphs">mutant</text>
<line x1="494.9" y1="150.5" x2="528.9" y2="150.5" stroke="#1a1a1a" stroke-width="1.5"/>
<line x1="494.9" y1="155.3" x2="528.9" y2="155.3" stroke="#1a1a1a" stroke-width="1.5"/>
<text x="512.4" y="164.5" font-size="11" text-anchor="middle" font-style="italic" fill="#1a1a1a" textLength="34" lengthAdjust="spacingAndGlyphs">mutant</text>
<text x="559.4" y="146.83" font-size="9.5" text-anchor="middle" fill="#1a1a1a">+</text>
<line x1="541.9" y1="150.4" x2="576" y2="150.4" stroke="#1a1a1a" stroke-width="1.5"/>
<line x1="541.9" y1="155.4" x2="576" y2="155.4" stroke="#1a1a1a" stroke-width="1.5"/>
<text x="560.1" y="165.4" font-size="11" text-anchor="middle" font-style="italic" fill="#1a1a1a" textLength="34" lengthAdjust="spacingAndGlyphs">mutant</text>
<text x="601.3" y="146.83" font-size="9.5" text-anchor="middle" fill="#1a1a1a">+</text>
<line x1="584.1" y1="150.4" x2="618.8" y2="150.4" stroke="#1a1a1a" stroke-width="1.5"/>
<line x1="584.1" y1="155.4" x2="618.8" y2="155.4" stroke="#1a1a1a" stroke-width="1.5"/>
<text x="601.3" y="164.23" font-size="9.5" text-anchor="middle" fill="#1a1a1a">+</text>
<text x="632.1" y="156" font-size="10.9" text-anchor="middle" fill="#1a1a1a" textLength="11.3" lengthAdjust="spacingAndGlyphs">G1</text>
<line x1="510.5" y1="174.7" x2="510.5" y2="183.6" stroke="#111" stroke-width="1.25"/>
<polygon points="506.5,181.1 510.5,183.1 514.5,181.1 510.5,188.6" fill="#111"/>
<line x1="510.5" y1="193.4" x2="510.5" y2="203.8" stroke="#111" stroke-width="1.25"/>
<polygon points="506.5,201.3 510.5,203.3 514.5,201.3 510.5,208.8" fill="#111"/>
<line x1="599.7" y1="174.7" x2="599.7" y2="183.6" stroke="#111" stroke-width="1.25"/>
<polygon points="595.7,181.1 599.7,183.1 603.7,181.1 599.7,188.6" fill="#111"/>
<line x1="599.7" y1="193.4" x2="599.7" y2="203.8" stroke="#111" stroke-width="1.25"/>
<polygon points="595.7,201.3 599.7,203.3 603.7,201.3 599.7,208.8" fill="#111"/>
<text x="624" y="201.3" font-size="10.9" text-anchor="middle" fill="#1a1a1a" textLength="35" lengthAdjust="spacingAndGlyphs">G2 – Gn</text>
<text x="510.1" y="230.1" font-size="11.8" text-anchor="middle" fill="#1a1a1a" textLength="33.9" lengthAdjust="spacingAndGlyphs">mutant</text>
<text x="599.1" y="226.4" font-size="11.8" text-anchor="middle" fill="#1a1a1a" textLength="70.6" lengthAdjust="spacingAndGlyphs">corresponding</text>
<text x="599.3" y="238" font-size="11.8" text-anchor="middle" fill="#1a1a1a" textLength="43.6" lengthAdjust="spacingAndGlyphs">wild-type</text>
<text x="-0.5" y="313.2" font-size="23" text-anchor="start" fill="#1a1a1a">c</text>
<line x1="42" y1="340.3" x2="348" y2="340.3" stroke="#555" stroke-width="1.1" stroke-dasharray="4.4 6.6"/>
<line x1="42" y1="435.3" x2="348" y2="435.3" stroke="#555" stroke-width="1.1" stroke-dasharray="4.4 6.6"/>
<line x1="43.1" y1="324.8" x2="43.1" y2="464.4" stroke="#333" stroke-width="1.2"/>
<line x1="42.5" y1="463.8" x2="352.6" y2="463.8" stroke="#333" stroke-width="1.2"/>
<line x1="38.9" y1="340.3" x2="43.1" y2="340.3" stroke="#333" stroke-width="1"/>
<text x="34.9" y="344.3" font-size="11.6" text-anchor="end" fill="#222" textLength="16.65" lengthAdjust="spacingAndGlyphs">100</text>
<line x1="38.9" y1="387.8" x2="43.1" y2="387.8" stroke="#333" stroke-width="1"/>
<text x="34.9" y="391.8" font-size="11.6" text-anchor="end" fill="#222" textLength="11.1" lengthAdjust="spacingAndGlyphs">50</text>
<line x1="38.9" y1="435.3" x2="43.1" y2="435.3" stroke="#333" stroke-width="1"/>
<text x="34.9" y="439.3" font-size="11.6" text-anchor="end" fill="#222" textLength="5.55" lengthAdjust="spacingAndGlyphs">0</text>
<text transform="translate(15 403.5) rotate(-90)" x="0" y="0" font-size="13.5" text-anchor="middle" fill="#222" textLength="158.2" lengthAdjust="spacingAndGlyphs">% of derepressed animals</text>
<line x1="55.5" y1="463.8" x2="55.5" y2="467.1" stroke="#222" stroke-width="1"/>
<text x="55.5" y="478.1" font-size="10.2" text-anchor="middle" fill="#222" textLength="11" lengthAdjust="spacingAndGlyphs">P0</text>
<line x1="74.3" y1="463.8" x2="74.3" y2="467.1" stroke="#222" stroke-width="1"/>
<text x="74.3" y="478.1" font-size="10.2" text-anchor="middle" fill="#222" textLength="11" lengthAdjust="spacingAndGlyphs">G1</text>
<line x1="94.9" y1="463.8" x2="94.9" y2="467.1" stroke="#222" stroke-width="1"/>
<text x="94.9" y="478.1" font-size="10.2" text-anchor="middle" fill="#222" textLength="11" lengthAdjust="spacingAndGlyphs">G2</text>
<line x1="115.5" y1="463.8" x2="115.5" y2="467.1" stroke="#222" stroke-width="1"/>
<text x="115.5" y="478.1" font-size="10.2" text-anchor="middle" fill="#222" textLength="11" lengthAdjust="spacingAndGlyphs">G3</text>
<line x1="136.1" y1="463.8" x2="136.1" y2="467.1" stroke="#222" stroke-width="1"/>
<text x="136.1" y="478.1" font-size="10.2" text-anchor="middle" fill="#222" textLength="11" lengthAdjust="spacingAndGlyphs">G4</text>
<line x1="156.7" y1="463.8" x2="156.7" y2="467.1" stroke="#222" stroke-width="1"/>
<text x="156.7" y="478.1" font-size="10.2" text-anchor="middle" fill="#222" textLength="11" lengthAdjust="spacingAndGlyphs">G5</text>
<line x1="177.3" y1="463.8" x2="177.3" y2="467.1" stroke="#222" stroke-width="1"/>
<text x="177.3" y="478.1" font-size="10.2" text-anchor="middle" fill="#222" textLength="11" lengthAdjust="spacingAndGlyphs">G6</text>
<line x1="197.9" y1="463.8" x2="197.9" y2="467.1" stroke="#222" stroke-width="1"/>
<text x="197.9" y="478.1" font-size="10.2" text-anchor="middle" fill="#222" textLength="11" lengthAdjust="spacingAndGlyphs">G7</text>
<line x1="218.5" y1="463.8" x2="218.5" y2="467.1" stroke="#222" stroke-width="1"/>
<text x="218.5" y="478.1" font-size="10.2" text-anchor="middle" fill="#222" textLength="11" lengthAdjust="spacingAndGlyphs">G8</text>
<line x1="239.1" y1="463.8" x2="239.1" y2="467.1" stroke="#222" stroke-width="1"/>
<text x="239.1" y="478.1" font-size="10.2" text-anchor="middle" fill="#222" textLength="11" lengthAdjust="spacingAndGlyphs">G9</text>
<line x1="259.7" y1="463.8" x2="259.7" y2="467.1" stroke="#222" stroke-width="1"/>
<text x="259.7" y="478.1" font-size="10.2" text-anchor="middle" fill="#222" textLength="15.4" lengthAdjust="spacingAndGlyphs">G10</text>
<line x1="280.3" y1="463.8" x2="280.3" y2="467.1" stroke="#222" stroke-width="1"/>
<text x="280.3" y="478.1" font-size="10.2" text-anchor="middle" fill="#222" textLength="15.4" lengthAdjust="spacingAndGlyphs">G11</text>
<line x1="300.9" y1="463.8" x2="300.9" y2="467.1" stroke="#222" stroke-width="1"/>
<text x="300.9" y="478.1" font-size="10.2" text-anchor="middle" fill="#222" textLength="15.4" lengthAdjust="spacingAndGlyphs">G12</text>
<line x1="321.5" y1="463.8" x2="321.5" y2="467.1" stroke="#222" stroke-width="1"/>
<text x="321.5" y="478.1" font-size="10.2" text-anchor="middle" fill="#222" textLength="15.4" lengthAdjust="spacingAndGlyphs">G13</text>
<line x1="342.1" y1="463.8" x2="342.1" y2="467.1" stroke="#222" stroke-width="1"/>
<text x="342.1" y="478.1" font-size="10.2" text-anchor="middle" fill="#222" textLength="15.4" lengthAdjust="spacingAndGlyphs">G14</text>
<line x1="76.3" y1="409.2" x2="76.3" y2="440.2" stroke="#555" stroke-width="0.8"/>
<line x1="72.3" y1="409.2" x2="80.3" y2="409.2" stroke="#555" stroke-width="0.8"/>
<line x1="72.3" y1="440.2" x2="80.3" y2="440.2" stroke="#555" stroke-width="0.8"/>
<line x1="96.7" y1="388.1" x2="96.7" y2="446.9" stroke="#555" stroke-width="0.8"/>
<line x1="92.7" y1="388.1" x2="100.7" y2="388.1" stroke="#555" stroke-width="0.8"/>
<line x1="92.7" y1="446.9" x2="100.7" y2="446.9" stroke="#555" stroke-width="0.8"/>
<line x1="117" y1="360.3" x2="117" y2="443.5" stroke="#bdbdbd" stroke-width="0.8"/>
<line x1="113" y1="360.3" x2="121" y2="360.3" stroke="#bdbdbd" stroke-width="0.8"/>
<line x1="113" y1="443.5" x2="121" y2="443.5" stroke="#bdbdbd" stroke-width="0.8"/>
<line x1="137.4" y1="340.5" x2="137.4" y2="434.5" stroke="#555" stroke-width="0.8"/>
<line x1="133.4" y1="340.5" x2="141.4" y2="340.5" stroke="#555" stroke-width="0.8"/>
<line x1="133.4" y1="434.5" x2="141.4" y2="434.5" stroke="#555" stroke-width="0.8"/>
<line x1="157.4" y1="336.2" x2="157.4" y2="428.1" stroke="#555" stroke-width="0.8"/>
<line x1="153.4" y1="336.2" x2="161.4" y2="336.2" stroke="#555" stroke-width="0.8"/>
<line x1="153.4" y1="428.1" x2="161.4" y2="428.1" stroke="#555" stroke-width="0.8"/>
<line x1="178" y1="330.5" x2="178" y2="417.3" stroke="#666" stroke-width="0.8"/>
<line x1="174" y1="330.5" x2="182" y2="330.5" stroke="#666" stroke-width="0.8"/>
<line x1="174" y1="417.3" x2="182" y2="417.3" stroke="#666" stroke-width="0.8"/>
<line x1="198.4" y1="325.7" x2="198.4" y2="402.5" stroke="#666" stroke-width="0.8"/>
<line x1="194.4" y1="325.7" x2="202.4" y2="325.7" stroke="#666" stroke-width="0.8"/>
<line x1="194.4" y1="402.5" x2="202.4" y2="402.5" stroke="#666" stroke-width="0.8"/>
<line x1="218.6" y1="323.4" x2="218.6" y2="380.6" stroke="#666" stroke-width="0.8"/>
<line x1="214.6" y1="323.4" x2="222.6" y2="323.4" stroke="#666" stroke-width="0.8"/>
<line x1="214.6" y1="380.6" x2="222.6" y2="380.6" stroke="#666" stroke-width="0.8"/>
<line x1="238.9" y1="326.2" x2="238.9" y2="366.1" stroke="#666" stroke-width="0.8"/>
<line x1="234.9" y1="326.2" x2="242.9" y2="326.2" stroke="#666" stroke-width="0.8"/>
<line x1="234.9" y1="366.1" x2="242.9" y2="366.1" stroke="#666" stroke-width="0.8"/>
<line x1="259.2" y1="333.3" x2="259.2" y2="351.3" stroke="#666" stroke-width="0.8"/>
<line x1="255.2" y1="333.3" x2="263.2" y2="333.3" stroke="#666" stroke-width="0.8"/>
<line x1="255.2" y1="351.3" x2="263.2" y2="351.3" stroke="#666" stroke-width="0.8"/>
<line x1="76.3" y1="421.6" x2="76.3" y2="442" stroke="#f08a50" stroke-width="0.8"/>
<line x1="72.3" y1="421.6" x2="80.3" y2="421.6" stroke="#f08a50" stroke-width="0.8"/>
<line x1="72.3" y1="442" x2="80.3" y2="442" stroke="#f08a50" stroke-width="0.8"/>
<line x1="96.7" y1="416.2" x2="96.7" y2="442.7" stroke="#ee7a3a" stroke-width="0.8"/>
<line x1="92.7" y1="416.2" x2="100.7" y2="416.2" stroke="#ee7a3a" stroke-width="0.8"/>
<line x1="92.7" y1="442.7" x2="100.7" y2="442.7" stroke="#ee7a3a" stroke-width="0.8"/>
<line x1="117" y1="397.5" x2="117" y2="448.2" stroke="#f6c3a6" stroke-width="0.8"/>
<line x1="113" y1="397.5" x2="121" y2="397.5" stroke="#f6c3a6" stroke-width="0.8"/>
<line x1="113" y1="448.2" x2="121" y2="448.2" stroke="#f6c3a6" stroke-width="0.8"/>
<line x1="137.4" y1="380.7" x2="137.4" y2="453.1" stroke="#f4a77f" stroke-width="0.8"/>
<line x1="133.4" y1="380.7" x2="141.4" y2="380.7" stroke="#f4a77f" stroke-width="0.8"/>
<line x1="133.4" y1="453.1" x2="141.4" y2="453.1" stroke="#f4a77f" stroke-width="0.8"/>
<line x1="157.4" y1="370.3" x2="157.4" y2="451.5" stroke="#f4a77f" stroke-width="0.8"/>
<line x1="153.4" y1="370.3" x2="161.4" y2="370.3" stroke="#f4a77f" stroke-width="0.8"/>
<line x1="153.4" y1="451.5" x2="161.4" y2="451.5" stroke="#f4a77f" stroke-width="0.8"/>
<line x1="178" y1="364.1" x2="178" y2="450" stroke="#f4a77f" stroke-width="0.8"/>
<line x1="174" y1="364.1" x2="182" y2="364.1" stroke="#f4a77f" stroke-width="0.8"/>
<line x1="174" y1="450" x2="182" y2="450" stroke="#f4a77f" stroke-width="0.8"/>
<line x1="198.4" y1="359.8" x2="198.4" y2="444.4" stroke="#f4a77f" stroke-width="0.8"/>
<line x1="194.4" y1="359.8" x2="202.4" y2="359.8" stroke="#f4a77f" stroke-width="0.8"/>
<line x1="194.4" y1="444.4" x2="202.4" y2="444.4" stroke="#f4a77f" stroke-width="0.8"/>
<line x1="218.6" y1="345.6" x2="218.6" y2="435.8" stroke="#f4a77f" stroke-width="0.8"/>
<line x1="214.6" y1="345.6" x2="222.6" y2="345.6" stroke="#f4a77f" stroke-width="0.8"/>
<line x1="214.6" y1="435.8" x2="222.6" y2="435.8" stroke="#f4a77f" stroke-width="0.8"/>
<line x1="238.9" y1="335" x2="238.9" y2="422.4" stroke="#f4a77f" stroke-width="0.8"/>
<line x1="234.9" y1="335" x2="242.9" y2="335" stroke="#f4a77f" stroke-width="0.8"/>
<line x1="234.9" y1="422.4" x2="242.9" y2="422.4" stroke="#f4a77f" stroke-width="0.8"/>
<line x1="259.2" y1="325.7" x2="259.2" y2="406.8" stroke="#f4a77f" stroke-width="0.8"/>
<line x1="255.2" y1="325.7" x2="263.2" y2="325.7" stroke="#f4a77f" stroke-width="0.8"/>
<line x1="255.2" y1="406.8" x2="263.2" y2="406.8" stroke="#f4a77f" stroke-width="0.8"/>
<line x1="280.8" y1="322.2" x2="280.8" y2="399.1" stroke="#f4a77f" stroke-width="0.8"/>
<line x1="276.8" y1="322.2" x2="284.8" y2="322.2" stroke="#f4a77f" stroke-width="0.8"/>
<line x1="276.8" y1="399.1" x2="284.8" y2="399.1" stroke="#f4a77f" stroke-width="0.8"/>
<line x1="301.1" y1="321.4" x2="301.1" y2="393.4" stroke="#f4a77f" stroke-width="0.8"/>
<line x1="297.1" y1="321.4" x2="305.1" y2="321.4" stroke="#f4a77f" stroke-width="0.8"/>
<line x1="297.1" y1="393.4" x2="305.1" y2="393.4" stroke="#f4a77f" stroke-width="0.8"/>
<line x1="321.5" y1="324.2" x2="321.5" y2="378.3" stroke="#f4a77f" stroke-width="0.8"/>
<line x1="317.5" y1="324.2" x2="325.5" y2="324.2" stroke="#f4a77f" stroke-width="0.8"/>
<line x1="317.5" y1="378.3" x2="325.5" y2="378.3" stroke="#f4a77f" stroke-width="0.8"/>
<line x1="342" y1="323.4" x2="342" y2="368.4" stroke="#f4a77f" stroke-width="0.8"/>
<line x1="338" y1="323.4" x2="346" y2="323.4" stroke="#f4a77f" stroke-width="0.8"/>
<line x1="338" y1="368.4" x2="346" y2="368.4" stroke="#f4a77f" stroke-width="0.8"/>
<polyline points="54.2,435.3 76.3,424.6 96.7,417.9 117,402.3 137.4,387.4 157.4,382.6 178,373.5 198.4,364.1 218.6,352.1 238.9,346.2 259.2,342.2 280.8,340.5 301.1,340.5 321.5,340.5 342,340.5" fill="none" stroke="#333" stroke-width="0.9"/>
<polyline points="57.4,435.3 76.3,431.5 96.7,429.6 117,422.4 137.4,416.7 157.4,411 178,407.4 198.4,401.9 218.6,391.1 238.9,378.9 259.2,366.4 280.8,360.7 301.1,357.3 321.5,351.6 342,345.6" fill="none" stroke="#f08a55" stroke-width="0.9"/>
<ellipse cx="54.2" cy="435.3" rx="2.75" ry="3.5" fill="#0a0a0a"/>
<ellipse cx="57.4" cy="435.3" rx="2.75" ry="3.5" fill="#ee6a22"/>
<ellipse cx="76.3" cy="424.6" rx="2.75" ry="3.5" fill="#0a0a0a"/>
<ellipse cx="96.7" cy="417.9" rx="2.75" ry="3.5" fill="#0a0a0a"/>
<ellipse cx="117" cy="402.3" rx="2.75" ry="3.5" fill="#0a0a0a"/>
<ellipse cx="137.4" cy="387.4" rx="2.75" ry="3.5" fill="#0a0a0a"/>
<ellipse cx="157.4" cy="382.6" rx="2.75" ry="3.5" fill="#0a0a0a"/>
<ellipse cx="178" cy="373.5" rx="2.75" ry="3.5" fill="#0a0a0a"/>
<ellipse cx="198.4" cy="364.1" rx="2.75" ry="3.5" fill="#0a0a0a"/>
<ellipse cx="218.6" cy="352.1" rx="2.75" ry="3.5" fill="#0a0a0a"/>
<ellipse cx="238.9" cy="346.2" rx="2.75" ry="3.5" fill="#0a0a0a"/>
<ellipse cx="259.2" cy="342.2" rx="2.75" ry="3.5" fill="#0a0a0a"/>
<ellipse cx="280.8" cy="340.5" rx="2.75" ry="3.5" fill="#0a0a0a"/>
<ellipse cx="301.1" cy="340.5" rx="2.75" ry="3.5" fill="#0a0a0a"/>
<ellipse cx="321.5" cy="340.5" rx="2.75" ry="3.5" fill="#0a0a0a"/>
<ellipse cx="342" cy="340.5" rx="2.75" ry="3.5" fill="#0a0a0a"/>
<ellipse cx="76.3" cy="431.5" rx="2.75" ry="3.5" fill="#ee6a22"/>
<ellipse cx="96.7" cy="429.6" rx="2.75" ry="3.5" fill="#ee6a22"/>
<ellipse cx="117" cy="422.4" rx="2.75" ry="3.5" fill="#ee6a22"/>
<ellipse cx="137.4" cy="416.7" rx="2.75" ry="3.5" fill="#ee6a22"/>
<ellipse cx="157.4" cy="411" rx="2.75" ry="3.5" fill="#ee6a22"/>
<ellipse cx="178" cy="407.4" rx="2.75" ry="3.5" fill="#ee6a22"/>
<ellipse cx="198.4" cy="401.9" rx="2.75" ry="3.5" fill="#ee6a22"/>
<ellipse cx="218.6" cy="391.1" rx="2.75" ry="3.5" fill="#ee6a22"/>
<ellipse cx="238.9" cy="378.9" rx="2.75" ry="3.5" fill="#ee6a22"/>
<ellipse cx="259.2" cy="366.4" rx="2.75" ry="3.5" fill="#ee6a22"/>
<ellipse cx="280.8" cy="360.7" rx="2.75" ry="3.5" fill="#ee6a22"/>
<ellipse cx="301.1" cy="357.3" rx="2.75" ry="3.5" fill="#ee6a22"/>
<ellipse cx="321.5" cy="351.6" rx="2.75" ry="3.5" fill="#ee6a22"/>
<ellipse cx="342" cy="345.6" rx="2.75" ry="3.5" fill="#ee6a22"/>
<ellipse cx="119.2" cy="491.4" rx="6.3" ry="7" fill="#0a0a0a"/>
<text x="130.3" y="495.4" font-size="11.6" text-anchor="start" fill="#1a1a1a" textLength="42.4" lengthAdjust="spacingAndGlyphs">wild-type</text>
<ellipse cx="194.2" cy="491.4" rx="6.3" ry="7" fill="#ee6a22"/>
<text x="204.9" y="495.4" font-size="11.6" text-anchor="start" font-style="italic" fill="#1a1a1a" textLength="60.2" lengthAdjust="spacingAndGlyphs">hcf-1(pk924)</text>
<text x="355" y="317.8" font-size="22.5" text-anchor="start" fill="#1a1a1a">d</text>
<line x1="400.9" y1="339.6" x2="685" y2="339.6" stroke="#555" stroke-width="1.1" stroke-dasharray="4 7"/>
<line x1="400.9" y1="434.8" x2="685" y2="434.8" stroke="#555" stroke-width="1.1" stroke-dasharray="4 7"/>
<line x1="400.9" y1="325" x2="400.9" y2="463.8" stroke="#333" stroke-width="1.2"/>
<line x1="400.3" y1="463.2" x2="685" y2="463.2" stroke="#333" stroke-width="1.2"/>
<line x1="397.6" y1="339.6" x2="400.9" y2="339.6" stroke="#333" stroke-width="1"/>
<text x="395.8" y="343.6" font-size="11.6" text-anchor="end" fill="#222" textLength="16.65" lengthAdjust="spacingAndGlyphs">100</text>
<line x1="397.6" y1="387.2" x2="400.9" y2="387.2" stroke="#333" stroke-width="1"/>
<text x="395.8" y="391.2" font-size="11.6" text-anchor="end" fill="#222" textLength="11.1" lengthAdjust="spacingAndGlyphs">50</text>
<line x1="397.6" y1="434.8" x2="400.9" y2="434.8" stroke="#333" stroke-width="1"/>
<text x="395.8" y="438.8" font-size="11.6" text-anchor="end" fill="#222" textLength="5.55" lengthAdjust="spacingAndGlyphs">0</text>
<text transform="translate(377.5 405.2) rotate(-90)" x="0" y="0" font-size="13.5" text-anchor="middle" fill="#222" textLength="157.2" lengthAdjust="spacingAndGlyphs">% of derepressed animals</text>
<line x1="409.5" y1="463.2" x2="409.5" y2="466.5" stroke="#222" stroke-width="1"/>
<text x="409.5" y="477.3" font-size="10.2" text-anchor="middle" fill="#222" textLength="11.2" lengthAdjust="spacingAndGlyphs">P0</text>
<line x1="428.9" y1="463.2" x2="428.9" y2="466.5" stroke="#222" stroke-width="1"/>
<text x="428.9" y="477.3" font-size="10.2" text-anchor="middle" fill="#222" textLength="11.2" lengthAdjust="spacingAndGlyphs">G1</text>
<line x1="449.43" y1="463.2" x2="449.43" y2="466.5" stroke="#222" stroke-width="1"/>
<text x="449.43" y="477.3" font-size="10.2" text-anchor="middle" fill="#222" textLength="11.2" lengthAdjust="spacingAndGlyphs">G2</text>
<line x1="469.96" y1="463.2" x2="469.96" y2="466.5" stroke="#222" stroke-width="1"/>
<text x="469.96" y="477.3" font-size="10.2" text-anchor="middle" fill="#222" textLength="11.2" lengthAdjust="spacingAndGlyphs">G3</text>
<line x1="490.49" y1="463.2" x2="490.49" y2="466.5" stroke="#222" stroke-width="1"/>
<text x="490.49" y="477.3" font-size="10.2" text-anchor="middle" fill="#222" textLength="11.2" lengthAdjust="spacingAndGlyphs">G4</text>
<line x1="511.02" y1="463.2" x2="511.02" y2="466.5" stroke="#222" stroke-width="1"/>
<text x="511.02" y="477.3" font-size="10.2" text-anchor="middle" fill="#222" textLength="11.2" lengthAdjust="spacingAndGlyphs">G5</text>
<line x1="531.55" y1="463.2" x2="531.55" y2="466.5" stroke="#222" stroke-width="1"/>
<text x="531.55" y="477.3" font-size="10.2" text-anchor="middle" fill="#222" textLength="11.2" lengthAdjust="spacingAndGlyphs">G6</text>
<line x1="552.08" y1="463.2" x2="552.08" y2="466.5" stroke="#222" stroke-width="1"/>
<text x="552.08" y="477.3" font-size="10.2" text-anchor="middle" fill="#222" textLength="11.2" lengthAdjust="spacingAndGlyphs">G7</text>
<line x1="572.61" y1="463.2" x2="572.61" y2="466.5" stroke="#222" stroke-width="1"/>
<text x="572.61" y="477.3" font-size="10.2" text-anchor="middle" fill="#222" textLength="11.2" lengthAdjust="spacingAndGlyphs">G8</text>
<line x1="593.14" y1="463.2" x2="593.14" y2="466.5" stroke="#222" stroke-width="1"/>
<text x="593.14" y="477.3" font-size="10.2" text-anchor="middle" fill="#222" textLength="11.2" lengthAdjust="spacingAndGlyphs">G9</text>
<line x1="613.67" y1="463.2" x2="613.67" y2="466.5" stroke="#222" stroke-width="1"/>
<text x="613.67" y="477.3" font-size="10.2" text-anchor="middle" fill="#222" textLength="15.68" lengthAdjust="spacingAndGlyphs">G10</text>
<line x1="634.2" y1="463.2" x2="634.2" y2="466.5" stroke="#222" stroke-width="1"/>
<text x="634.2" y="477.3" font-size="10.2" text-anchor="middle" fill="#222" textLength="15.68" lengthAdjust="spacingAndGlyphs">G11</text>
<line x1="654.73" y1="463.2" x2="654.73" y2="466.5" stroke="#222" stroke-width="1"/>
<text x="654.73" y="477.3" font-size="10.2" text-anchor="middle" fill="#222" textLength="15.68" lengthAdjust="spacingAndGlyphs">G12</text>
<line x1="675.26" y1="463.2" x2="675.26" y2="466.5" stroke="#222" stroke-width="1"/>
<text x="675.26" y="477.3" font-size="10.2" text-anchor="middle" fill="#222" textLength="15.68" lengthAdjust="spacingAndGlyphs">G13</text>
<line x1="428.9" y1="400.4" x2="428.9" y2="445.8" stroke="#888" stroke-width="0.8"/>
<line x1="427" y1="400.4" x2="430.8" y2="400.4" stroke="#888" stroke-width="0.8"/>
<line x1="427" y1="445.8" x2="430.8" y2="445.8" stroke="#888" stroke-width="0.8"/>
<line x1="449.43" y1="408.2" x2="449.43" y2="443.2" stroke="#888" stroke-width="0.8"/>
<line x1="447.53" y1="408.2" x2="451.33" y2="408.2" stroke="#888" stroke-width="0.8"/>
<line x1="447.53" y1="443.2" x2="451.33" y2="443.2" stroke="#888" stroke-width="0.8"/>
<line x1="469.96" y1="374.4" x2="469.96" y2="446.6" stroke="#777" stroke-width="0.8"/>
<line x1="468.06" y1="374.4" x2="471.86" y2="374.4" stroke="#777" stroke-width="0.8"/>
<line x1="468.06" y1="446.6" x2="471.86" y2="446.6" stroke="#777" stroke-width="0.8"/>
<line x1="490.49" y1="351.2" x2="490.49" y2="431.4" stroke="#555" stroke-width="0.8"/>
<line x1="488.59" y1="351.2" x2="492.39" y2="351.2" stroke="#555" stroke-width="0.8"/>
<line x1="488.59" y1="431.4" x2="492.39" y2="431.4" stroke="#555" stroke-width="0.8"/>
<line x1="511.02" y1="332.2" x2="511.02" y2="398.2" stroke="#aaa" stroke-width="0.8"/>
<line x1="509.12" y1="332.2" x2="512.92" y2="332.2" stroke="#aaa" stroke-width="0.8"/>
<line x1="509.12" y1="398.2" x2="512.92" y2="398.2" stroke="#aaa" stroke-width="0.8"/>
<line x1="531.55" y1="326.2" x2="531.55" y2="373.5" stroke="#555" stroke-width="0.8"/>
<line x1="529.65" y1="326.2" x2="533.45" y2="326.2" stroke="#555" stroke-width="0.8"/>
<line x1="529.65" y1="373.5" x2="533.45" y2="373.5" stroke="#555" stroke-width="0.8"/>
<line x1="552.08" y1="324.9" x2="552.08" y2="366.2" stroke="#c8c8c8" stroke-width="0.8"/>
<line x1="550.18" y1="324.9" x2="553.98" y2="324.9" stroke="#c8c8c8" stroke-width="0.8"/>
<line x1="550.18" y1="366.2" x2="553.98" y2="366.2" stroke="#c8c8c8" stroke-width="0.8"/>
<line x1="572.61" y1="331.1" x2="572.61" y2="353.2" stroke="#666" stroke-width="0.8"/>
<line x1="570.71" y1="331.1" x2="574.51" y2="331.1" stroke="#666" stroke-width="0.8"/>
<line x1="570.71" y1="353.2" x2="574.51" y2="353.2" stroke="#666" stroke-width="0.8"/>
<line x1="428.9" y1="411.1" x2="428.9" y2="445.8" stroke="#86cfa2" stroke-width="0.8"/>
<line x1="427" y1="411.1" x2="430.8" y2="411.1" stroke="#86cfa2" stroke-width="0.8"/>
<line x1="427" y1="445.8" x2="430.8" y2="445.8" stroke="#86cfa2" stroke-width="0.8"/>
<line x1="449.43" y1="415.1" x2="449.43" y2="443.2" stroke="#86cfa2" stroke-width="0.8"/>
<line x1="447.53" y1="415.1" x2="451.33" y2="415.1" stroke="#86cfa2" stroke-width="0.8"/>
<line x1="447.53" y1="443.2" x2="451.33" y2="443.2" stroke="#86cfa2" stroke-width="0.8"/>
<line x1="469.96" y1="397.2" x2="469.96" y2="451.9" stroke="#86cfa2" stroke-width="0.8"/>
<line x1="468.06" y1="397.2" x2="471.86" y2="397.2" stroke="#86cfa2" stroke-width="0.8"/>
<line x1="468.06" y1="451.9" x2="471.86" y2="451.9" stroke="#86cfa2" stroke-width="0.8"/>
<line x1="490.49" y1="392" x2="490.49" y2="454.5" stroke="#86cfa2" stroke-width="0.8"/>
<line x1="488.59" y1="392" x2="492.39" y2="392" stroke="#86cfa2" stroke-width="0.8"/>
<line x1="488.59" y1="454.5" x2="492.39" y2="454.5" stroke="#86cfa2" stroke-width="0.8"/>
<line x1="511.02" y1="386.8" x2="511.02" y2="453" stroke="#86cfa2" stroke-width="0.8"/>
<line x1="509.12" y1="386.8" x2="512.92" y2="386.8" stroke="#86cfa2" stroke-width="0.8"/>
<line x1="509.12" y1="453" x2="512.92" y2="453" stroke="#86cfa2" stroke-width="0.8"/>
<line x1="531.55" y1="368.9" x2="531.55" y2="445" stroke="#86cfa2" stroke-width="0.8"/>
<line x1="529.65" y1="368.9" x2="533.45" y2="368.9" stroke="#86cfa2" stroke-width="0.8"/>
<line x1="529.65" y1="445" x2="533.45" y2="445" stroke="#86cfa2" stroke-width="0.8"/>
<line x1="552.08" y1="355.4" x2="552.08" y2="440.4" stroke="#86cfa2" stroke-width="0.8"/>
<line x1="550.18" y1="355.4" x2="553.98" y2="355.4" stroke="#86cfa2" stroke-width="0.8"/>
<line x1="550.18" y1="440.4" x2="553.98" y2="440.4" stroke="#86cfa2" stroke-width="0.8"/>
<line x1="572.61" y1="333" x2="572.61" y2="421.5" stroke="#86cfa2" stroke-width="0.8"/>
<line x1="570.71" y1="333" x2="574.51" y2="333" stroke="#86cfa2" stroke-width="0.8"/>
<line x1="570.71" y1="421.5" x2="574.51" y2="421.5" stroke="#86cfa2" stroke-width="0.8"/>
<line x1="593.14" y1="327.6" x2="593.14" y2="405.9" stroke="#86cfa2" stroke-width="0.8"/>
<line x1="591.24" y1="327.6" x2="595.04" y2="327.6" stroke="#86cfa2" stroke-width="0.8"/>
<line x1="591.24" y1="405.9" x2="595.04" y2="405.9" stroke="#86cfa2" stroke-width="0.8"/>
<line x1="613.67" y1="325.4" x2="613.67" y2="399.1" stroke="#86cfa2" stroke-width="0.8"/>
<line x1="611.77" y1="325.4" x2="615.57" y2="325.4" stroke="#86cfa2" stroke-width="0.8"/>
<line x1="611.77" y1="399.1" x2="615.57" y2="399.1" stroke="#86cfa2" stroke-width="0.8"/>
<line x1="634.2" y1="324" x2="634.2" y2="382.4" stroke="#86cfa2" stroke-width="0.8"/>
<line x1="632.3" y1="324" x2="636.1" y2="324" stroke="#86cfa2" stroke-width="0.8"/>
<line x1="632.3" y1="382.4" x2="636.1" y2="382.4" stroke="#86cfa2" stroke-width="0.8"/>
<line x1="654.73" y1="332.4" x2="654.73" y2="354" stroke="#86cfa2" stroke-width="0.8"/>
<line x1="652.83" y1="332.4" x2="656.63" y2="332.4" stroke="#86cfa2" stroke-width="0.8"/>
<line x1="652.83" y1="354" x2="656.63" y2="354" stroke="#86cfa2" stroke-width="0.8"/>
<polyline points="409.5,434.8 428.9,423.5 449.43,425.6 469.96,410.9 490.49,391.2 511.02,365.3 531.55,350 552.08,345.1 572.61,342.4 593.14,340 613.67,339.8 634.2,339.8 654.73,339.8 675.26,339.8" fill="none" stroke="#333" stroke-width="0.9"/>
<polyline points="412,434.8 428.9,428.7 449.43,429.5 469.96,425.3 490.49,422.7 511.02,420.5 531.55,407.2 552.08,397.8 572.61,378.1 593.14,366.7 613.67,362.7 634.2,353.2 654.73,342.9 675.26,339.7" fill="none" stroke="#2aa862" stroke-width="0.9"/>
<ellipse cx="409.5" cy="434.8" rx="3.4" ry="3.95" fill="#1a1a1a"/>
<ellipse cx="412" cy="434.8" rx="3.4" ry="3.95" fill="#0a9347"/>
<ellipse cx="428.9" cy="423.5" rx="3.4" ry="3.95" fill="#1a1a1a"/>
<ellipse cx="449.43" cy="425.6" rx="3.4" ry="3.95" fill="#1a1a1a"/>
<ellipse cx="469.96" cy="410.9" rx="3.4" ry="3.95" fill="#1a1a1a"/>
<ellipse cx="490.49" cy="391.2" rx="3.4" ry="3.95" fill="#1a1a1a"/>
<ellipse cx="511.02" cy="365.3" rx="3.4" ry="3.95" fill="#1a1a1a"/>
<ellipse cx="531.55" cy="350" rx="3.4" ry="3.95" fill="#1a1a1a"/>
<ellipse cx="552.08" cy="345.1" rx="3.4" ry="3.95" fill="#1a1a1a"/>
<ellipse cx="572.61" cy="342.4" rx="3.4" ry="3.95" fill="#1a1a1a"/>
<ellipse cx="593.14" cy="340" rx="3.4" ry="3.95" fill="#1a1a1a"/>
<ellipse cx="613.67" cy="339.8" rx="3.4" ry="3.95" fill="#1a1a1a"/>
<ellipse cx="634.2" cy="339.8" rx="3.4" ry="3.95" fill="#1a1a1a"/>
<ellipse cx="654.73" cy="339.8" rx="3.4" ry="3.95" fill="#1a1a1a"/>
<ellipse cx="675.26" cy="339.8" rx="3.4" ry="3.95" fill="#1a1a1a"/>
<ellipse cx="428.9" cy="428.7" rx="3.4" ry="3.95" fill="#0a9347"/>
<ellipse cx="449.43" cy="429.5" rx="3.4" ry="3.95" fill="#0a9347"/>
<ellipse cx="469.96" cy="425.3" rx="3.4" ry="3.95" fill="#0a9347"/>
<ellipse cx="490.49" cy="422.7" rx="3.4" ry="3.95" fill="#0a9347"/>
<ellipse cx="511.02" cy="420.5" rx="3.4" ry="3.95" fill="#0a9347"/>
<ellipse cx="531.55" cy="407.2" rx="3.4" ry="3.95" fill="#0a9347"/>
<ellipse cx="552.08" cy="397.8" rx="3.4" ry="3.95" fill="#0a9347"/>
<ellipse cx="572.61" cy="378.1" rx="3.4" ry="3.95" fill="#0a9347"/>
<ellipse cx="593.14" cy="366.7" rx="3.4" ry="3.95" fill="#0a9347"/>
<ellipse cx="613.67" cy="362.7" rx="3.4" ry="3.95" fill="#0a9347"/>
<ellipse cx="634.2" cy="353.2" rx="3.4" ry="3.95" fill="#0a9347"/>
<ellipse cx="654.73" cy="342.9" rx="3.4" ry="3.95" fill="#0a9347"/>
<ellipse cx="675.26" cy="339.7" rx="3.4" ry="3.95" fill="#0a9347"/>
<ellipse cx="480.1" cy="492.4" rx="6.6" ry="7" fill="#1a1a1a"/>
<text x="490.3" y="496.4" font-size="11.6" text-anchor="start" fill="#1a1a1a" textLength="42.6" lengthAdjust="spacingAndGlyphs">wild-type</text>
<ellipse cx="555" cy="492.4" rx="6.6" ry="7" fill="#0a9347"/>
<text x="565.4" y="496.4" font-size="11.6" text-anchor="start" font-style="italic" fill="#1a1a1a" textLength="60" lengthAdjust="spacingAndGlyphs">hcf-1(ok559)</text>
<text x="94.3" y="533.5" font-size="23" text-anchor="start" fill="#1a1a1a">e</text>
<rect x="136.6" y="528.6" width="405.9" height="182.3" fill="none" stroke="#111" stroke-width="1.2"/>
<circle cx="226.6" cy="549.9" r="3.4" fill="none" stroke="#111" stroke-width="1.7"/>
<line x1="229" y1="547.5" x2="232.2" y2="544.3" stroke="#111" stroke-width="1.7"/>
<polygon points="228.9,542.8 233.7,542.8 233.7,547.6" fill="#111" stroke="#111" stroke-width="0.6" stroke-linejoin="round"/>
<line x1="240.1" y1="546.7" x2="274" y2="546.7" stroke="#1a1a1a" stroke-width="1.5"/>
<line x1="240.1" y1="551.5" x2="274" y2="551.5" stroke="#1a1a1a" stroke-width="1.5"/>
<line x1="277.1" y1="546.7" x2="311" y2="546.7" stroke="#1a1a1a" stroke-width="1.5"/>
<line x1="277.1" y1="551.5" x2="311" y2="551.5" stroke="#1a1a1a" stroke-width="1.5"/>
<text x="256.3" y="544.64" font-size="11" text-anchor="middle" fill="#1a1a1a">+</text>
<text x="256.3" y="560.34" font-size="11" text-anchor="middle" fill="#1a1a1a">+</text>
<text x="293.5" y="544.64" font-size="11" text-anchor="middle" fill="#1a1a1a">+</text>
<text x="293.5" y="560.34" font-size="11" text-anchor="middle" fill="#1a1a1a">+</text>
<text x="328.6" y="556" font-size="18.2" text-anchor="middle" fill="#15303f" textLength="11.6" lengthAdjust="spacingAndGlyphs">X</text>
<line x1="328.6" y1="562.2" x2="328.6" y2="576.6" stroke="#111" stroke-width="1.25"/>
<polygon points="324.6,574.1 328.6,576.1 332.6,574.1 328.6,581.6" fill="#111"/>
<line x1="346.6" y1="546.6" x2="380.6" y2="546.6" stroke="#1a1a1a" stroke-width="1.5"/>
<line x1="346.6" y1="551.3" x2="380.6" y2="551.3" stroke="#1a1a1a" stroke-width="1.5"/>
<line x1="383.8" y1="546.6" x2="417.4" y2="546.6" stroke="#1a1a1a" stroke-width="1.5"/>
<line x1="383.8" y1="551.3" x2="417.4" y2="551.3" stroke="#1a1a1a" stroke-width="1.5"/>
<text x="363" y="543.7" font-size="10" text-anchor="middle" font-style="italic" fill="#1a1a1a" textLength="22" lengthAdjust="spacingAndGlyphs">hcf-1</text>
<text x="363" y="561.9" font-size="10" text-anchor="middle" font-style="italic" fill="#1a1a1a" textLength="22" lengthAdjust="spacingAndGlyphs">hcf-1</text>
<text x="399.9" y="543.7" font-size="10" text-anchor="middle" font-style="italic" fill="#1a1a1a" textLength="27.2" lengthAdjust="spacingAndGlyphs">set-24</text>
<text x="399.9" y="561.9" font-size="10" text-anchor="middle" font-style="italic" fill="#1a1a1a" textLength="27.2" lengthAdjust="spacingAndGlyphs">set-24</text>
<circle cx="428.3" cy="546.6" r="3.4" fill="none" stroke="#111" stroke-width="1.7"/>
<line x1="428.3" y1="550" x2="428.3" y2="557.2" stroke="#111" stroke-width="1.7"/>
<line x1="424.3" y1="553.8" x2="431.9" y2="553.8" stroke="#111" stroke-width="1.7"/>
<line x1="430.7" y1="544.2" x2="433.3" y2="541.6" stroke="#111" stroke-width="1.7"/>
<polygon points="430.4,540 434.9,540 434.9,544.5" fill="#111" stroke="#111" stroke-width="0.6" stroke-linejoin="round"/>
<text x="272.4" y="603.2" font-size="10" text-anchor="middle" font-style="italic" fill="#1a1a1a" textLength="22.6" lengthAdjust="spacingAndGlyphs">RNAi</text>
<line x1="290.7" y1="596.9" x2="324.6" y2="596.9" stroke="#1a1a1a" stroke-width="1.5"/>
<line x1="290.7" y1="601.7" x2="324.6" y2="601.7" stroke="#1a1a1a" stroke-width="1.5"/>
<text x="307.5" y="595.13" font-size="9.5" text-anchor="middle" fill="#1a1a1a">+</text>
<text x="306.1" y="610.5" font-size="10" text-anchor="middle" font-style="italic" fill="#1a1a1a" textLength="22" lengthAdjust="spacingAndGlyphs">hcf-1</text>
<line x1="332.1" y1="596.9" x2="365.6" y2="596.9" stroke="#1a1a1a" stroke-width="1.5"/>
<line x1="332.1" y1="601.7" x2="365.6" y2="601.7" stroke="#1a1a1a" stroke-width="1.5"/>
<text x="348.7" y="595.13" font-size="9.5" text-anchor="middle" fill="#1a1a1a">+</text>
<text x="348.8" y="610.5" font-size="10" text-anchor="middle" font-style="italic" fill="#1a1a1a" textLength="27.4" lengthAdjust="spacingAndGlyphs">set-24</text>
<text x="393.5" y="605" font-size="11.8" text-anchor="middle" fill="#1a1a1a" textLength="12.2" lengthAdjust="spacingAndGlyphs">P0</text>
<line x1="329.8" y1="616.5" x2="329.8" y2="630.2" stroke="#111" stroke-width="1.25"/>
<polygon points="325.8,627.7 329.8,629.7 333.8,627.7 329.8,635.2" fill="#111"/>
<line x1="152.2" y1="648" x2="185.9" y2="648" stroke="#1a1a1a" stroke-width="1.5"/>
<line x1="152.2" y1="652.9" x2="185.9" y2="652.9" stroke="#1a1a1a" stroke-width="1.5"/>
<text x="169.05" y="644.93" font-size="9.5" text-anchor="middle" fill="#1a1a1a">+</text>
<text x="169.05" y="662.03" font-size="9.5" text-anchor="middle" fill="#1a1a1a">+</text>
<line x1="190.2" y1="648" x2="222.9" y2="648" stroke="#1a1a1a" stroke-width="1.5"/>
<line x1="190.2" y1="652.9" x2="222.9" y2="652.9" stroke="#1a1a1a" stroke-width="1.5"/>
<text x="206.55" y="644.93" font-size="9.5" text-anchor="middle" fill="#1a1a1a">+</text>
<text x="206.55" y="662.03" font-size="9.5" text-anchor="middle" fill="#1a1a1a">+</text>
<line x1="243.4" y1="648" x2="276.6" y2="648" stroke="#1a1a1a" stroke-width="1.5"/>
<line x1="243.4" y1="652.9" x2="276.6" y2="652.9" stroke="#1a1a1a" stroke-width="1.5"/>
<text x="260" y="644.93" font-size="9.5" text-anchor="middle" fill="#1a1a1a">+</text>
<text x="260" y="662.03" font-size="9.5" text-anchor="middle" fill="#1a1a1a">+</text>
<line x1="280.9" y1="648" x2="314.9" y2="648" stroke="#1a1a1a" stroke-width="1.5"/>
<line x1="280.9" y1="652.9" x2="314.9" y2="652.9" stroke="#1a1a1a" stroke-width="1.5"/>
<text x="298.5" y="645" font-size="10" text-anchor="middle" font-style="italic" fill="#1a1a1a" textLength="27" lengthAdjust="spacingAndGlyphs">set-24</text>
<text x="298.5" y="662.7" font-size="10" text-anchor="middle" font-style="italic" fill="#1a1a1a" textLength="27" lengthAdjust="spacingAndGlyphs">set-24</text>
<line x1="343.8" y1="648" x2="377.4" y2="648" stroke="#1a1a1a" stroke-width="1.5"/>
<line x1="343.8" y1="652.9" x2="377.4" y2="652.9" stroke="#1a1a1a" stroke-width="1.5"/>
<text x="361.2" y="645" font-size="10" text-anchor="middle" font-style="italic" fill="#1a1a1a" textLength="21.2" lengthAdjust="spacingAndGlyphs">hcf-1</text>
<text x="361.2" y="662.7" font-size="10" text-anchor="middle" font-style="italic" fill="#1a1a1a" textLength="21.2" lengthAdjust="spacingAndGlyphs">hcf-1</text>
<line x1="380.9" y1="648" x2="414.5" y2="648" stroke="#1a1a1a" stroke-width="1.5"/>
<line x1="380.9" y1="652.9" x2="414.5" y2="652.9" stroke="#1a1a1a" stroke-width="1.5"/>
<text x="397.7" y="644.93" font-size="9.5" text-anchor="middle" fill="#1a1a1a">+</text>
<text x="397.7" y="662.03" font-size="9.5" text-anchor="middle" fill="#1a1a1a">+</text>
<line x1="435.2" y1="648" x2="468.8" y2="648" stroke="#1a1a1a" stroke-width="1.5"/>
<line x1="435.2" y1="652.9" x2="468.8" y2="652.9" stroke="#1a1a1a" stroke-width="1.5"/>
<text x="452.6" y="645" font-size="10" text-anchor="middle" font-style="italic" fill="#1a1a1a" textLength="21.2" lengthAdjust="spacingAndGlyphs">hcf-1</text>
<text x="452.6" y="662.7" font-size="10" text-anchor="middle" font-style="italic" fill="#1a1a1a" textLength="21.2" lengthAdjust="spacingAndGlyphs">hcf-1</text>
<line x1="471.7" y1="648" x2="505.9" y2="648" stroke="#1a1a1a" stroke-width="1.5"/>
<line x1="471.7" y1="652.9" x2="505.9" y2="652.9" stroke="#1a1a1a" stroke-width="1.5"/>
<text x="489.4" y="645" font-size="10" text-anchor="middle" font-style="italic" fill="#1a1a1a" textLength="27" lengthAdjust="spacingAndGlyphs">set-24</text>
<text x="489.4" y="662.7" font-size="10" text-anchor="middle" font-style="italic" fill="#1a1a1a" textLength="27" lengthAdjust="spacingAndGlyphs">set-24</text>
<text x="522.6" y="657.2" font-size="11.6" text-anchor="middle" fill="#1a1a1a" textLength="11.8" lengthAdjust="spacingAndGlyphs">G1</text>
<line x1="188.4" y1="666.5" x2="188.4" y2="676" stroke="#111" stroke-width="1.25"/>
<polygon points="184.4,673.5 188.4,675.5 192.4,673.5 188.4,681" fill="#111"/>
<line x1="279.9" y1="670.3" x2="279.9" y2="679.4" stroke="#111" stroke-width="1.25"/>
<polygon points="275.9,676.9 279.9,678.9 283.9,676.9 279.9,684.4" fill="#111"/>
<line x1="378.9" y1="669.6" x2="378.9" y2="679" stroke="#111" stroke-width="1.25"/>
<polygon points="374.9,676.5 378.9,678.5 382.9,676.5 378.9,684" fill="#111"/>
<line x1="471.7" y1="670.3" x2="471.7" y2="679.6" stroke="#111" stroke-width="1.25"/>
<polygon points="467.7,677.1 471.7,679.1 475.7,677.1 471.7,684.6" fill="#111"/>
<text x="290.6" y="703.3" font-size="12.2" text-anchor="start" fill="#1a1a1a" textLength="75.6" lengthAdjust="spacingAndGlyphs">G2 ---------&gt; Gn</text>
<text x="3" y="740.6" font-size="22" text-anchor="start" fill="#1a1a1a">f</text>
<line x1="56.4" y1="763.2" x2="296" y2="763.2" stroke="#555" stroke-width="1.1" stroke-dasharray="7.5 7"/>
<line x1="56.4" y1="869.9" x2="296" y2="869.9" stroke="#555" stroke-width="1.1" stroke-dasharray="7.5 7"/>
<line x1="58.8" y1="744.1" x2="58.8" y2="906.8" stroke="#333" stroke-width="1.2"/>
<line x1="58.2" y1="906.2" x2="293.6" y2="906.2" stroke="#333" stroke-width="1.2"/>
<line x1="53.4" y1="763.2" x2="58.8" y2="763.2" stroke="#333" stroke-width="1"/>
<text x="49.7" y="767.2" font-size="11.6" text-anchor="end" fill="#222" textLength="16.65" lengthAdjust="spacingAndGlyphs">100</text>
<line x1="53.4" y1="816.55" x2="58.8" y2="816.55" stroke="#333" stroke-width="1"/>
<text x="49.7" y="820.55" font-size="11.6" text-anchor="end" fill="#222" textLength="11.1" lengthAdjust="spacingAndGlyphs">50</text>
<line x1="53.4" y1="869.9" x2="58.8" y2="869.9" stroke="#333" stroke-width="1"/>
<text x="49.7" y="873.9" font-size="11.6" text-anchor="end" fill="#222" textLength="5.55" lengthAdjust="spacingAndGlyphs">0</text>
<text transform="translate(28.9 826.6) rotate(-90)" x="0" y="0" font-size="13.5" text-anchor="middle" fill="#222" textLength="157.2" lengthAdjust="spacingAndGlyphs">% of derepressed animals</text>
<line x1="79.2" y1="906.2" x2="79.2" y2="909.5" stroke="#222" stroke-width="1"/>
<text x="79.2" y="924.1" font-size="12.4" text-anchor="middle" fill="#222" textLength="14" lengthAdjust="spacingAndGlyphs">P0</text>
<line x1="114.3" y1="906.2" x2="114.3" y2="909.5" stroke="#222" stroke-width="1"/>
<text x="114.3" y="924.1" font-size="12.4" text-anchor="middle" fill="#222" textLength="14" lengthAdjust="spacingAndGlyphs">G1</text>
<line x1="146.3" y1="906.2" x2="146.3" y2="909.5" stroke="#222" stroke-width="1"/>
<text x="146.3" y="924.1" font-size="12.4" text-anchor="middle" fill="#222" textLength="14" lengthAdjust="spacingAndGlyphs">G2</text>
<line x1="179.6" y1="906.2" x2="179.6" y2="909.5" stroke="#222" stroke-width="1"/>
<text x="179.6" y="924.1" font-size="12.4" text-anchor="middle" fill="#222" textLength="14" lengthAdjust="spacingAndGlyphs">G3</text>
<line x1="212.4" y1="906.2" x2="212.4" y2="909.5" stroke="#222" stroke-width="1"/>
<text x="212.4" y="924.1" font-size="12.4" text-anchor="middle" fill="#222" textLength="14" lengthAdjust="spacingAndGlyphs">G4</text>
<line x1="245.7" y1="906.2" x2="245.7" y2="909.5" stroke="#222" stroke-width="1"/>
<text x="245.7" y="924.1" font-size="12.4" text-anchor="middle" fill="#222" textLength="14" lengthAdjust="spacingAndGlyphs">G5</text>
<line x1="278.5" y1="906.2" x2="278.5" y2="909.5" stroke="#222" stroke-width="1"/>
<text x="278.5" y="924.1" font-size="12.4" text-anchor="middle" fill="#222" textLength="14" lengthAdjust="spacingAndGlyphs">G6</text>
<line x1="113.7" y1="798.6" x2="113.7" y2="877" stroke="#e2e2e2" stroke-width="0.8"/>
<line x1="109.6" y1="798.6" x2="117.8" y2="798.6" stroke="#e2e2e2" stroke-width="0.8"/>
<line x1="109.6" y1="877" x2="117.8" y2="877" stroke="#e2e2e2" stroke-width="0.8"/>
<line x1="146.1" y1="746.1" x2="146.1" y2="846" stroke="#e2e2e2" stroke-width="0.8"/>
<line x1="142" y1="746.1" x2="150.2" y2="746.1" stroke="#e2e2e2" stroke-width="0.8"/>
<line x1="142" y1="846" x2="150.2" y2="846" stroke="#e2e2e2" stroke-width="0.8"/>
<line x1="179" y1="740.2" x2="179" y2="829" stroke="#e2e2e2" stroke-width="0.8"/>
<line x1="174.9" y1="740.2" x2="183.1" y2="740.2" stroke="#e2e2e2" stroke-width="0.8"/>
<line x1="174.9" y1="829" x2="183.1" y2="829" stroke="#e2e2e2" stroke-width="0.8"/>
<line x1="211.9" y1="740.2" x2="211.9" y2="829" stroke="#e2e2e2" stroke-width="0.8"/>
<line x1="207.8" y1="740.2" x2="216" y2="740.2" stroke="#e2e2e2" stroke-width="0.8"/>
<line x1="207.8" y1="829" x2="216" y2="829" stroke="#e2e2e2" stroke-width="0.8"/>
<line x1="245.2" y1="743.1" x2="245.2" y2="813" stroke="#e2e2e2" stroke-width="0.8"/>
<line x1="241.1" y1="743.1" x2="249.3" y2="743.1" stroke="#e2e2e2" stroke-width="0.8"/>
<line x1="241.1" y1="813" x2="249.3" y2="813" stroke="#e2e2e2" stroke-width="0.8"/>
<line x1="278.2" y1="738.5" x2="278.2" y2="809" stroke="#e2e2e2" stroke-width="0.8"/>
<line x1="274.1" y1="738.5" x2="282.3" y2="738.5" stroke="#e2e2e2" stroke-width="0.8"/>
<line x1="274.1" y1="809" x2="282.3" y2="809" stroke="#e2e2e2" stroke-width="0.8"/>
<line x1="113.7" y1="858" x2="113.7" y2="874.6" stroke="#444" stroke-width="0.8"/>
<line x1="109.6" y1="858" x2="117.8" y2="858" stroke="#444" stroke-width="0.8"/>
<line x1="109.6" y1="874.6" x2="117.8" y2="874.6" stroke="#444" stroke-width="0.8"/>
<line x1="179" y1="781" x2="179" y2="861.4" stroke="#444" stroke-width="0.8"/>
<line x1="174.9" y1="781" x2="183.1" y2="781" stroke="#444" stroke-width="0.8"/>
<line x1="174.9" y1="861.4" x2="183.1" y2="861.4" stroke="#444" stroke-width="0.8"/>
<line x1="211.9" y1="738.2" x2="211.9" y2="846" stroke="#444" stroke-width="0.8"/>
<line x1="207.8" y1="738.2" x2="216" y2="738.2" stroke="#444" stroke-width="0.8"/>
<line x1="207.8" y1="846" x2="216" y2="846" stroke="#444" stroke-width="0.8"/>
<line x1="245.2" y1="752" x2="245.2" y2="808" stroke="#444" stroke-width="0.8"/>
<line x1="241.1" y1="752" x2="249.3" y2="752" stroke="#444" stroke-width="0.8"/>
<line x1="241.1" y1="808" x2="249.3" y2="808" stroke="#444" stroke-width="0.8"/>
<line x1="278.2" y1="738.2" x2="278.2" y2="819" stroke="#444" stroke-width="0.8"/>
<line x1="274.1" y1="738.2" x2="282.3" y2="738.2" stroke="#444" stroke-width="0.8"/>
<line x1="274.1" y1="819" x2="282.3" y2="819" stroke="#444" stroke-width="0.8"/>
<line x1="113.7" y1="830.1" x2="113.7" y2="878.9" stroke="#6fbf92" stroke-width="0.8"/>
<line x1="109.6" y1="830.1" x2="117.8" y2="830.1" stroke="#6fbf92" stroke-width="0.8"/>
<line x1="109.6" y1="878.9" x2="117.8" y2="878.9" stroke="#6fbf92" stroke-width="0.8"/>
<line x1="146.1" y1="832.8" x2="146.1" y2="882" stroke="#6fbf92" stroke-width="0.8"/>
<line x1="142" y1="832.8" x2="150.2" y2="832.8" stroke="#6fbf92" stroke-width="0.8"/>
<line x1="142" y1="882" x2="150.2" y2="882" stroke="#6fbf92" stroke-width="0.8"/>
<line x1="179" y1="810.3" x2="179" y2="889" stroke="#6fbf92" stroke-width="0.8"/>
<line x1="174.9" y1="810.3" x2="183.1" y2="810.3" stroke="#6fbf92" stroke-width="0.8"/>
<line x1="174.9" y1="889" x2="183.1" y2="889" stroke="#6fbf92" stroke-width="0.8"/>
<line x1="211.9" y1="798" x2="211.9" y2="891.5" stroke="#6fbf92" stroke-width="0.8"/>
<line x1="207.8" y1="798" x2="216" y2="798" stroke="#6fbf92" stroke-width="0.8"/>
<line x1="207.8" y1="891.5" x2="216" y2="891.5" stroke="#6fbf92" stroke-width="0.8"/>
<line x1="245.2" y1="773.8" x2="245.2" y2="865.2" stroke="#6fbf92" stroke-width="0.8"/>
<line x1="241.1" y1="773.8" x2="249.3" y2="773.8" stroke="#6fbf92" stroke-width="0.8"/>
<line x1="241.1" y1="865.2" x2="249.3" y2="865.2" stroke="#6fbf92" stroke-width="0.8"/>
<line x1="278.2" y1="752.8" x2="278.2" y2="862.8" stroke="#6fbf92" stroke-width="0.8"/>
<line x1="274.1" y1="752.8" x2="282.3" y2="752.8" stroke="#6fbf92" stroke-width="0.8"/>
<line x1="274.1" y1="862.8" x2="282.3" y2="862.8" stroke="#6fbf92" stroke-width="0.8"/>
<line x1="113.7" y1="799.2" x2="113.7" y2="878.3" stroke="#5b9bc8" stroke-width="0.8"/>
<line x1="109.6" y1="799.2" x2="117.8" y2="799.2" stroke="#5b9bc8" stroke-width="0.8"/>
<line x1="109.6" y1="878.3" x2="117.8" y2="878.3" stroke="#5b9bc8" stroke-width="0.8"/>
<line x1="146.1" y1="828.4" x2="146.1" y2="881" stroke="#5b9bc8" stroke-width="0.8"/>
<line x1="142" y1="828.4" x2="150.2" y2="828.4" stroke="#5b9bc8" stroke-width="0.8"/>
<line x1="142" y1="881" x2="150.2" y2="881" stroke="#5b9bc8" stroke-width="0.8"/>
<line x1="179" y1="794.8" x2="179" y2="889.7" stroke="#5b9bc8" stroke-width="0.8"/>
<line x1="174.9" y1="794.8" x2="183.1" y2="794.8" stroke="#5b9bc8" stroke-width="0.8"/>
<line x1="174.9" y1="889.7" x2="183.1" y2="889.7" stroke="#5b9bc8" stroke-width="0.8"/>
<line x1="211.9" y1="788" x2="211.9" y2="892" stroke="#5b9bc8" stroke-width="0.8"/>
<line x1="207.8" y1="788" x2="216" y2="788" stroke="#5b9bc8" stroke-width="0.8"/>
<line x1="207.8" y1="892" x2="216" y2="892" stroke="#5b9bc8" stroke-width="0.8"/>
<line x1="245.2" y1="782" x2="245.2" y2="882.4" stroke="#5b9bc8" stroke-width="0.8"/>
<line x1="241.1" y1="782" x2="249.3" y2="782" stroke="#5b9bc8" stroke-width="0.8"/>
<line x1="241.1" y1="882.4" x2="249.3" y2="882.4" stroke="#5b9bc8" stroke-width="0.8"/>
<line x1="278.2" y1="768" x2="278.2" y2="881.2" stroke="#5b9bc8" stroke-width="0.8"/>
<line x1="274.1" y1="768" x2="282.3" y2="768" stroke="#5b9bc8" stroke-width="0.8"/>
<line x1="274.1" y1="881.2" x2="282.3" y2="881.2" stroke="#5b9bc8" stroke-width="0.8"/>
<polyline points="74.6,869.9 113.7,864.3 146.1,848.2 179,821.4 211.9,792.2 245.2,780.2 278.2,778.8" fill="none" stroke="#333" stroke-width="0.9"/>
<polyline points="77.2,869.9 113.7,838 146.1,796.6 179,784.6 211.9,784.6 245.2,778.2 278.2,773.8" fill="none" stroke="#c8c8c8" stroke-width="0.9"/>
<polyline points="80.4,869.9 113.7,854.1 146.1,857.6 179,849.7 211.9,843.9 245.2,821.1 278.2,808.2" fill="none" stroke="#2aa862" stroke-width="0.9"/>
<polyline points="83.4,869.9 113.7,844.7 146.1,854.7 179,842.4 211.9,839.5 245.2,832.2 278.2,824.3" fill="none" stroke="#5a95d2" stroke-width="0.9"/>
<ellipse cx="74.6" cy="869.9" rx="3.5" ry="4" fill="#0a0a0a"/>
<ellipse cx="77.2" cy="869.9" rx="3.5" ry="4" fill="#cccccc"/>
<ellipse cx="80.4" cy="869.9" rx="3.5" ry="4" fill="#0a9347"/>
<ellipse cx="83.4" cy="869.9" rx="3.5" ry="4" fill="#4487cc"/>
<ellipse cx="113.7" cy="838" rx="3.5" ry="4" fill="#cccccc"/>
<ellipse cx="146.1" cy="796.6" rx="3.5" ry="4" fill="#cccccc"/>
<ellipse cx="179" cy="784.6" rx="3.5" ry="4" fill="#cccccc"/>
<ellipse cx="211.9" cy="784.6" rx="3.5" ry="4" fill="#cccccc"/>
<ellipse cx="245.2" cy="778.2" rx="3.5" ry="4" fill="#cccccc"/>
<ellipse cx="278.2" cy="773.8" rx="3.5" ry="4" fill="#cccccc"/>
<ellipse cx="113.7" cy="854.1" rx="3.5" ry="4" fill="#0a9347"/>
<ellipse cx="146.1" cy="857.6" rx="3.5" ry="4" fill="#0a9347"/>
<ellipse cx="179" cy="849.7" rx="3.5" ry="4" fill="#0a9347"/>
<ellipse cx="211.9" cy="843.9" rx="3.5" ry="4" fill="#0a9347"/>
<ellipse cx="245.2" cy="821.1" rx="3.5" ry="4" fill="#0a9347"/>
<ellipse cx="278.2" cy="808.2" rx="3.5" ry="4" fill="#0a9347"/>
<ellipse cx="113.7" cy="844.7" rx="3.5" ry="4" fill="#4487cc"/>
<ellipse cx="146.1" cy="854.7" rx="3.5" ry="4" fill="#4487cc"/>
<ellipse cx="179" cy="842.4" rx="3.5" ry="4" fill="#4487cc"/>
<ellipse cx="211.9" cy="839.5" rx="3.5" ry="4" fill="#4487cc"/>
<ellipse cx="245.2" cy="832.2" rx="3.5" ry="4" fill="#4487cc"/>
<ellipse cx="278.2" cy="824.3" rx="3.5" ry="4" fill="#4487cc"/>
<ellipse cx="113.7" cy="864.3" rx="3.5" ry="4" fill="#0a0a0a"/>
<ellipse cx="146.1" cy="848.2" rx="3.5" ry="4" fill="#0a0a0a"/>
<ellipse cx="179" cy="821.4" rx="3.5" ry="4" fill="#0a0a0a"/>
<ellipse cx="211.9" cy="792.2" rx="3.5" ry="4" fill="#0a0a0a"/>
<ellipse cx="245.2" cy="780.2" rx="3.5" ry="4" fill="#0a0a0a"/>
<ellipse cx="278.2" cy="778.8" rx="3.5" ry="4" fill="#0a0a0a"/>
<ellipse cx="61.8" cy="950.4" rx="7.2" ry="7.6" fill="#0a0a0a"/>
<text x="73.3" y="954.4" font-size="11.6" text-anchor="start" fill="#1a1a1a" textLength="40.6" lengthAdjust="spacingAndGlyphs">wild-type</text>
<ellipse cx="146.8" cy="950.4" rx="7.2" ry="7.6" fill="#cccccc"/>
<text x="157.2" y="954.4" font-size="11.6" text-anchor="start" font-style="italic" fill="#1a1a1a" textLength="72.4" lengthAdjust="spacingAndGlyphs">set-24(syb7014)</text>
<ellipse cx="61.8" cy="973" rx="7.2" ry="7.6" fill="#0a9347"/>
<text x="73.3" y="977" font-size="11.6" text-anchor="start" font-style="italic" fill="#1a1a1a" textLength="57.6" lengthAdjust="spacingAndGlyphs">hcf-1(ok559)</text>
<ellipse cx="146.8" cy="973" rx="7.2" ry="7.6" fill="#4487cc"/>
<text x="157.2" y="977" font-size="11.6" text-anchor="start" font-style="italic" fill="#1a1a1a" textLength="132.7" lengthAdjust="spacingAndGlyphs">set-24(syb7014);hcf-1(ok559)</text>
<text x="337" y="740.5" font-size="22" text-anchor="start" fill="#1a1a1a">g</text>
<line x1="392.5" y1="764.2" x2="630" y2="764.2" stroke="#555" stroke-width="1.1" stroke-dasharray="7.5 7"/>
<line x1="392.5" y1="871" x2="630" y2="871" stroke="#555" stroke-width="1.1" stroke-dasharray="7.5 7"/>
<line x1="394.7" y1="743.9" x2="394.7" y2="907.4" stroke="#333" stroke-width="1.2"/>
<line x1="394.1" y1="906.8" x2="626" y2="906.8" stroke="#333" stroke-width="1.2"/>
<line x1="390.8" y1="764.2" x2="394.7" y2="764.2" stroke="#333" stroke-width="1"/>
<text x="386.2" y="768.2" font-size="11.6" text-anchor="end" fill="#222" textLength="16.65" lengthAdjust="spacingAndGlyphs">100</text>
<line x1="390.8" y1="817.6" x2="394.7" y2="817.6" stroke="#333" stroke-width="1"/>
<text x="386.2" y="821.6" font-size="11.6" text-anchor="end" fill="#222" textLength="11.1" lengthAdjust="spacingAndGlyphs">50</text>
<line x1="390.8" y1="871" x2="394.7" y2="871" stroke="#333" stroke-width="1"/>
<text x="386.2" y="875" font-size="11.6" text-anchor="end" fill="#222" textLength="5.55" lengthAdjust="spacingAndGlyphs">0</text>
<text transform="translate(365.9 829.9) rotate(-90)" x="0" y="0" font-size="13.5" text-anchor="middle" fill="#222" textLength="156.5" lengthAdjust="spacingAndGlyphs">% of derepressed animals</text>
<line x1="416.8" y1="906.8" x2="416.8" y2="910.1" stroke="#222" stroke-width="1"/>
<text x="416.8" y="923.8" font-size="12.4" text-anchor="middle" fill="#222" textLength="13.8" lengthAdjust="spacingAndGlyphs">P0</text>
<line x1="449.6" y1="906.8" x2="449.6" y2="910.1" stroke="#222" stroke-width="1"/>
<text x="449.6" y="923.8" font-size="12.4" text-anchor="middle" fill="#222" textLength="13.8" lengthAdjust="spacingAndGlyphs">G1</text>
<line x1="480.3" y1="906.8" x2="480.3" y2="910.1" stroke="#222" stroke-width="1"/>
<text x="480.3" y="923.8" font-size="12.4" text-anchor="middle" fill="#222" textLength="13.8" lengthAdjust="spacingAndGlyphs">G2</text>
<line x1="513.7" y1="906.8" x2="513.7" y2="910.1" stroke="#222" stroke-width="1"/>
<text x="513.7" y="923.8" font-size="12.4" text-anchor="middle" fill="#222" textLength="13.8" lengthAdjust="spacingAndGlyphs">G3</text>
<line x1="547.1" y1="906.8" x2="547.1" y2="910.1" stroke="#222" stroke-width="1"/>
<text x="547.1" y="923.8" font-size="12.4" text-anchor="middle" fill="#222" textLength="13.8" lengthAdjust="spacingAndGlyphs">G4</text>
<line x1="580.7" y1="906.8" x2="580.7" y2="910.1" stroke="#222" stroke-width="1"/>
<text x="580.7" y="923.8" font-size="12.4" text-anchor="middle" fill="#222" textLength="13.8" lengthAdjust="spacingAndGlyphs">G5</text>
<line x1="612.9" y1="906.8" x2="612.9" y2="910.1" stroke="#222" stroke-width="1"/>
<text x="612.9" y="923.8" font-size="12.4" text-anchor="middle" fill="#222" textLength="13.8" lengthAdjust="spacingAndGlyphs">G6</text>
<line x1="448.9" y1="839.1" x2="448.9" y2="878.4" stroke="#b4b4b4" stroke-width="0.8"/>
<line x1="445.3" y1="839.1" x2="452.5" y2="839.1" stroke="#b4b4b4" stroke-width="0.8"/>
<line x1="445.3" y1="878.4" x2="452.5" y2="878.4" stroke="#b4b4b4" stroke-width="0.8"/>
<line x1="480" y1="818.2" x2="480" y2="853" stroke="#b4b4b4" stroke-width="0.8"/>
<line x1="476.4" y1="818.2" x2="483.6" y2="818.2" stroke="#b4b4b4" stroke-width="0.8"/>
<line x1="476.4" y1="853" x2="483.6" y2="853" stroke="#b4b4b4" stroke-width="0.8"/>
<line x1="513.4" y1="761.5" x2="513.4" y2="869" stroke="#b4b4b4" stroke-width="0.8"/>
<line x1="509.8" y1="761.5" x2="517" y2="761.5" stroke="#b4b4b4" stroke-width="0.8"/>
<line x1="509.8" y1="869" x2="517" y2="869" stroke="#b4b4b4" stroke-width="0.8"/>
<line x1="546.9" y1="756.9" x2="546.9" y2="843" stroke="#b4b4b4" stroke-width="0.8"/>
<line x1="543.3" y1="756.9" x2="550.5" y2="756.9" stroke="#b4b4b4" stroke-width="0.8"/>
<line x1="543.3" y1="843" x2="550.5" y2="843" stroke="#b4b4b4" stroke-width="0.8"/>
<line x1="580.5" y1="744" x2="580.5" y2="816" stroke="#b4b4b4" stroke-width="0.8"/>
<line x1="576.9" y1="744" x2="584.1" y2="744" stroke="#b4b4b4" stroke-width="0.8"/>
<line x1="576.9" y1="816" x2="584.1" y2="816" stroke="#b4b4b4" stroke-width="0.8"/>
<line x1="612.8" y1="741.1" x2="612.8" y2="810" stroke="#b4b4b4" stroke-width="0.8"/>
<line x1="609.2" y1="741.1" x2="616.4" y2="741.1" stroke="#b4b4b4" stroke-width="0.8"/>
<line x1="609.2" y1="810" x2="616.4" y2="810" stroke="#b4b4b4" stroke-width="0.8"/>
<line x1="448.9" y1="839.5" x2="448.9" y2="878.3" stroke="#555" stroke-width="0.8"/>
<line x1="445.3" y1="839.5" x2="452.5" y2="839.5" stroke="#555" stroke-width="0.8"/>
<line x1="445.3" y1="878.3" x2="452.5" y2="878.3" stroke="#555" stroke-width="0.8"/>
<line x1="480" y1="828" x2="480" y2="868" stroke="#555" stroke-width="0.8"/>
<line x1="476.4" y1="828" x2="483.6" y2="828" stroke="#555" stroke-width="0.8"/>
<line x1="476.4" y1="868" x2="483.6" y2="868" stroke="#555" stroke-width="0.8"/>
<line x1="513.4" y1="777.3" x2="513.4" y2="880.4" stroke="#555" stroke-width="0.8"/>
<line x1="509.8" y1="777.3" x2="517" y2="777.3" stroke="#555" stroke-width="0.8"/>
<line x1="509.8" y1="880.4" x2="517" y2="880.4" stroke="#555" stroke-width="0.8"/>
<line x1="546.9" y1="795.4" x2="546.9" y2="840.4" stroke="#555" stroke-width="0.8"/>
<line x1="543.3" y1="795.4" x2="550.5" y2="795.4" stroke="#555" stroke-width="0.8"/>
<line x1="543.3" y1="840.4" x2="550.5" y2="840.4" stroke="#555" stroke-width="0.8"/>
<line x1="580.5" y1="755.7" x2="580.5" y2="858.5" stroke="#555" stroke-width="0.8"/>
<line x1="576.9" y1="755.7" x2="584.1" y2="755.7" stroke="#555" stroke-width="0.8"/>
<line x1="576.9" y1="858.5" x2="584.1" y2="858.5" stroke="#555" stroke-width="0.8"/>
<line x1="612.8" y1="750.4" x2="612.8" y2="853.5" stroke="#555" stroke-width="0.8"/>
<line x1="609.2" y1="750.4" x2="616.4" y2="750.4" stroke="#555" stroke-width="0.8"/>
<line x1="609.2" y1="853.5" x2="616.4" y2="853.5" stroke="#555" stroke-width="0.8"/>
<line x1="448.9" y1="842.4" x2="448.9" y2="877.4" stroke="#6fbf92" stroke-width="0.8"/>
<line x1="445.3" y1="842.4" x2="452.5" y2="842.4" stroke="#6fbf92" stroke-width="0.8"/>
<line x1="445.3" y1="877.4" x2="452.5" y2="877.4" stroke="#6fbf92" stroke-width="0.8"/>
<line x1="480" y1="838" x2="480" y2="878" stroke="#6fbf92" stroke-width="0.8"/>
<line x1="476.4" y1="838" x2="483.6" y2="838" stroke="#6fbf92" stroke-width="0.8"/>
<line x1="476.4" y1="878" x2="483.6" y2="878" stroke="#6fbf92" stroke-width="0.8"/>
<line x1="513.4" y1="818" x2="513.4" y2="890.6" stroke="#6fbf92" stroke-width="0.8"/>
<line x1="509.8" y1="818" x2="517" y2="818" stroke="#6fbf92" stroke-width="0.8"/>
<line x1="509.8" y1="890.6" x2="517" y2="890.6" stroke="#6fbf92" stroke-width="0.8"/>
<line x1="546.9" y1="831.8" x2="546.9" y2="863.5" stroke="#6fbf92" stroke-width="0.8"/>
<line x1="543.3" y1="831.8" x2="550.5" y2="831.8" stroke="#6fbf92" stroke-width="0.8"/>
<line x1="543.3" y1="863.5" x2="550.5" y2="863.5" stroke="#6fbf92" stroke-width="0.8"/>
<line x1="580.5" y1="794.2" x2="580.5" y2="886.3" stroke="#6fbf92" stroke-width="0.8"/>
<line x1="576.9" y1="794.2" x2="584.1" y2="794.2" stroke="#6fbf92" stroke-width="0.8"/>
<line x1="576.9" y1="886.3" x2="584.1" y2="886.3" stroke="#6fbf92" stroke-width="0.8"/>
<line x1="612.8" y1="782.1" x2="612.8" y2="886.8" stroke="#6fbf92" stroke-width="0.8"/>
<line x1="609.2" y1="782.1" x2="616.4" y2="782.1" stroke="#6fbf92" stroke-width="0.8"/>
<line x1="609.2" y1="886.8" x2="616.4" y2="886.8" stroke="#6fbf92" stroke-width="0.8"/>
<line x1="448.9" y1="862" x2="448.9" y2="873" stroke="#9fa3d8" stroke-width="0.8"/>
<line x1="445.3" y1="862" x2="452.5" y2="862" stroke="#9fa3d8" stroke-width="0.8"/>
<line x1="445.3" y1="873" x2="452.5" y2="873" stroke="#9fa3d8" stroke-width="0.8"/>
<line x1="480" y1="795.7" x2="480" y2="881.2" stroke="#9fa3d8" stroke-width="0.8"/>
<line x1="476.4" y1="795.7" x2="483.6" y2="795.7" stroke="#9fa3d8" stroke-width="0.8"/>
<line x1="476.4" y1="881.2" x2="483.6" y2="881.2" stroke="#9fa3d8" stroke-width="0.8"/>
<line x1="513.4" y1="807.4" x2="513.4" y2="889" stroke="#9fa3d8" stroke-width="0.8"/>
<line x1="509.8" y1="807.4" x2="517" y2="807.4" stroke="#9fa3d8" stroke-width="0.8"/>
<line x1="509.8" y1="889" x2="517" y2="889" stroke="#9fa3d8" stroke-width="0.8"/>
<line x1="546.9" y1="795" x2="546.9" y2="888.2" stroke="#9fa3d8" stroke-width="0.8"/>
<line x1="543.3" y1="795" x2="550.5" y2="795" stroke="#9fa3d8" stroke-width="0.8"/>
<line x1="543.3" y1="888.2" x2="550.5" y2="888.2" stroke="#9fa3d8" stroke-width="0.8"/>
<line x1="580.5" y1="776.4" x2="580.5" y2="882.1" stroke="#9fa3d8" stroke-width="0.8"/>
<line x1="576.9" y1="776.4" x2="584.1" y2="776.4" stroke="#9fa3d8" stroke-width="0.8"/>
<line x1="576.9" y1="882.1" x2="584.1" y2="882.1" stroke="#9fa3d8" stroke-width="0.8"/>
<line x1="612.8" y1="771.1" x2="612.8" y2="876" stroke="#9fa3d8" stroke-width="0.8"/>
<line x1="609.2" y1="771.1" x2="616.4" y2="771.1" stroke="#9fa3d8" stroke-width="0.8"/>
<line x1="609.2" y1="876" x2="616.4" y2="876" stroke="#9fa3d8" stroke-width="0.8"/>
<polyline points="411,870.9 448.9,858.5 480,848.2 513.4,828.7 546.9,817.6 580.5,807.4 612.8,801.5" fill="none" stroke="#333" stroke-width="0.9"/>
<polyline points="414,870.9 448.9,860 480,835.7 513.4,815.5 546.9,800.1 580.5,780.2 612.8,776.1" fill="none" stroke="#9a9a9a" stroke-width="0.9"/>
<polyline points="417,870.9 448.9,859.9 480,861.4 513.4,854.1 546.9,848.2 580.5,840.4 612.8,834.2" fill="none" stroke="#2aa862" stroke-width="0.9"/>
<polyline points="420.2,870.9 448.9,867.2 480,859.9 513.4,848.2 546.9,841.8 580.5,829.9 612.8,824" fill="none" stroke="#8a8ed0" stroke-width="0.9"/>
<ellipse cx="411" cy="870.9" rx="3.2" ry="3.8" fill="#0a0a0a"/>
<ellipse cx="414" cy="870.9" rx="3.2" ry="3.8" fill="#8e8e8e"/>
<ellipse cx="417" cy="870.9" rx="3.2" ry="3.8" fill="#0a9347"/>
<ellipse cx="420.2" cy="870.9" rx="3.2" ry="3.8" fill="#7479bc"/>
<ellipse cx="448.9" cy="858.5" rx="3.2" ry="3.8" fill="#0a0a0a"/>
<ellipse cx="480" cy="848.2" rx="3.2" ry="3.8" fill="#0a0a0a"/>
<ellipse cx="513.4" cy="828.7" rx="3.2" ry="3.8" fill="#0a0a0a"/>
<ellipse cx="546.9" cy="817.6" rx="3.2" ry="3.8" fill="#0a0a0a"/>
<ellipse cx="580.5" cy="807.4" rx="3.2" ry="3.8" fill="#0a0a0a"/>
<ellipse cx="612.8" cy="801.5" rx="3.2" ry="3.8" fill="#0a0a0a"/>
<ellipse cx="448.9" cy="860" rx="3.2" ry="3.8" fill="#8e8e8e"/>
<ellipse cx="480" cy="835.7" rx="3.2" ry="3.8" fill="#8e8e8e"/>
<ellipse cx="513.4" cy="815.5" rx="3.2" ry="3.8" fill="#8e8e8e"/>
<ellipse cx="546.9" cy="800.1" rx="3.2" ry="3.8" fill="#8e8e8e"/>
<ellipse cx="580.5" cy="780.2" rx="3.2" ry="3.8" fill="#8e8e8e"/>
<ellipse cx="612.8" cy="776.1" rx="3.2" ry="3.8" fill="#8e8e8e"/>
<ellipse cx="448.9" cy="859.9" rx="3.2" ry="3.8" fill="#0a9347"/>
<ellipse cx="480" cy="861.4" rx="3.2" ry="3.8" fill="#0a9347"/>
<ellipse cx="513.4" cy="854.1" rx="3.2" ry="3.8" fill="#0a9347"/>
<ellipse cx="546.9" cy="848.2" rx="3.2" ry="3.8" fill="#0a9347"/>
<ellipse cx="580.5" cy="840.4" rx="3.2" ry="3.8" fill="#0a9347"/>
<ellipse cx="612.8" cy="834.2" rx="3.2" ry="3.8" fill="#0a9347"/>
<ellipse cx="448.9" cy="867.2" rx="3.2" ry="3.8" fill="#7479bc"/>
<ellipse cx="480" cy="859.9" rx="3.2" ry="3.8" fill="#7479bc"/>
<ellipse cx="513.4" cy="848.2" rx="3.2" ry="3.8" fill="#7479bc"/>
<ellipse cx="546.9" cy="841.8" rx="3.2" ry="3.8" fill="#7479bc"/>
<ellipse cx="580.5" cy="829.9" rx="3.2" ry="3.8" fill="#7479bc"/>
<ellipse cx="612.8" cy="824" rx="3.2" ry="3.8" fill="#7479bc"/>
<ellipse cx="399" cy="950.2" rx="6.6" ry="7.2" fill="#0a0a0a"/>
<text x="410.6" y="954.2" font-size="11.6" text-anchor="start" fill="#1a1a1a" textLength="40.1" lengthAdjust="spacingAndGlyphs">wild-type</text>
<ellipse cx="483.6" cy="950.2" rx="6.6" ry="7.2" fill="#8e8e8e"/>
<text x="494.1" y="954.2" font-size="11.6" text-anchor="start" font-style="italic" fill="#1a1a1a" textLength="62.1" lengthAdjust="spacingAndGlyphs">set-24(mj617)</text>
<ellipse cx="399" cy="973" rx="6.6" ry="7.2" fill="#0a9347"/>
<text x="410.6" y="977" font-size="11.6" text-anchor="start" font-style="italic" fill="#1a1a1a" textLength="57.2" lengthAdjust="spacingAndGlyphs">hcf-1(ok559)</text>
<ellipse cx="483.6" cy="973" rx="6.6" ry="7.2" fill="#7479bc"/>
<text x="494.1" y="977" font-size="11.6" text-anchor="start" font-style="italic" fill="#1a1a1a" textLength="122.5" lengthAdjust="spacingAndGlyphs">set-24(mj617);hcf-1(ok559)</text>
</svg>
</body></html>
